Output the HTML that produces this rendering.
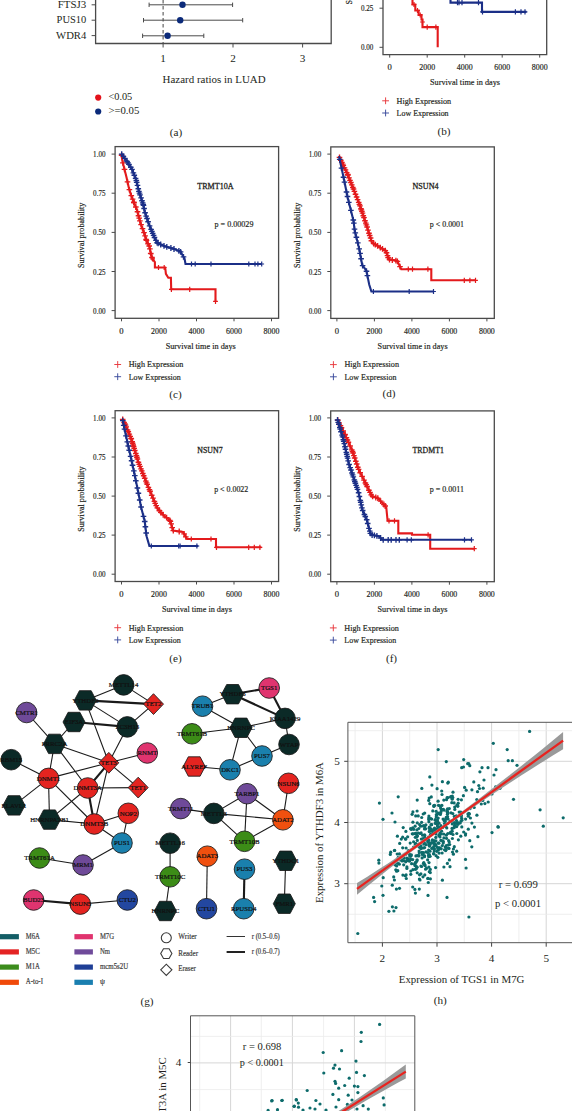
<!DOCTYPE html>
<html><head><meta charset="utf-8"><style>
html,body{margin:0;padding:0;background:#fff;}
body{width:572px;height:1111px;overflow:hidden;}
svg{display:block;font-family:"Liberation Serif",serif;}
</style></head><body>
<svg width="572" height="1111" viewBox="0 0 572 1111">
<rect width="572" height="1111" fill="#fff"/>
<polyline points="95.6,-5 95.6,43.5 331.2,43.5 331.2,-5" fill="none" stroke="#4a4a4a" stroke-width="1.3"/>
<line x1="91.6" y1="4.8" x2="95.6" y2="4.8" stroke="#4a4a4a" stroke-width="1"/>
<line x1="91.6" y1="20.2" x2="95.6" y2="20.2" stroke="#4a4a4a" stroke-width="1"/>
<line x1="91.6" y1="35.6" x2="95.6" y2="35.6" stroke="#4a4a4a" stroke-width="1"/>
<text x="86.3" y="7.9" font-size="11.2" text-anchor="end" textLength="28.5" lengthAdjust="spacingAndGlyphs" fill="#231f20">FTSJ3</text>
<text x="86.3" y="23.3" font-size="11.2" text-anchor="end" textLength="29.7" lengthAdjust="spacingAndGlyphs" fill="#231f20">PUS10</text>
<text x="86.3" y="38.7" font-size="11.2" text-anchor="end" textLength="30.2" lengthAdjust="spacingAndGlyphs" fill="#231f20">WDR4</text>
<line x1="163.1" y1="43.5" x2="163.1" y2="47.5" stroke="#4a4a4a" stroke-width="1"/>
<text x="163.1" y="61.9" font-size="11.2" text-anchor="middle" fill="#231f20">1</text>
<line x1="233" y1="43.5" x2="233" y2="47.5" stroke="#4a4a4a" stroke-width="1"/>
<text x="233" y="61.9" font-size="11.2" text-anchor="middle" fill="#231f20">2</text>
<line x1="302.6" y1="43.5" x2="302.6" y2="47.5" stroke="#4a4a4a" stroke-width="1"/>
<text x="302.6" y="61.9" font-size="11.2" text-anchor="middle" fill="#231f20">3</text>
<line x1="163.1" y1="0" x2="163.1" y2="43" stroke="#444" stroke-width="1" stroke-dasharray="3.5,2.5"/>
<line x1="149.1" y1="4.8" x2="232.6" y2="4.8" stroke="#4a4a4a" stroke-width="1"/>
<line x1="149.1" y1="2.6" x2="149.1" y2="7" stroke="#4a4a4a" stroke-width="1"/>
<line x1="232.6" y1="2.6" x2="232.6" y2="7" stroke="#4a4a4a" stroke-width="1"/>
<circle cx="182.5" cy="4.8" r="3.2" fill="#0b2a7a"/>
<line x1="143.5" y1="20.2" x2="242.7" y2="20.2" stroke="#4a4a4a" stroke-width="1"/>
<line x1="143.5" y1="18" x2="143.5" y2="22.4" stroke="#4a4a4a" stroke-width="1"/>
<line x1="242.7" y1="18" x2="242.7" y2="22.4" stroke="#4a4a4a" stroke-width="1"/>
<circle cx="180.2" cy="20.2" r="3.2" fill="#0b2a7a"/>
<line x1="142.6" y1="35.8" x2="203.8" y2="35.8" stroke="#4a4a4a" stroke-width="1"/>
<line x1="142.6" y1="33.6" x2="142.6" y2="38" stroke="#4a4a4a" stroke-width="1"/>
<line x1="203.8" y1="33.6" x2="203.8" y2="38" stroke="#4a4a4a" stroke-width="1"/>
<circle cx="167.6" cy="35.8" r="3.2" fill="#0b2a7a"/>
<text x="162.6" y="82.9" font-size="11.2" textLength="103" lengthAdjust="spacingAndGlyphs" fill="#231f20">Hazard ratios in LUAD</text>
<circle cx="98.2" cy="97.6" r="3.1" fill="#e3121b"/>
<circle cx="98.2" cy="111.5" r="3.1" fill="#0b2a7a"/>
<text x="108.4" y="99.8" font-size="11.2" textLength="23.9" lengthAdjust="spacingAndGlyphs" fill="#231f20">&lt;0.05</text>
<text x="108.4" y="113.8" font-size="11.2" textLength="30.9" lengthAdjust="spacingAndGlyphs" fill="#231f20">&gt;=0.05</text>
<text x="176" y="135.7" font-size="11.2" text-anchor="middle" fill="#231f20">(a)</text>
<polyline points="383,-5 383,54.6 546.7,54.6 546.7,-5" fill="none" stroke="#4a4a4a" stroke-width="1.3"/>
<line x1="379.5" y1="47.3" x2="383" y2="47.3" stroke="#4a4a4a" stroke-width="1"/>
<text x="373.4" y="50.3" font-size="8.7" text-anchor="end" textLength="12.4" lengthAdjust="spacingAndGlyphs" fill="#231f20" stroke="#231f20" stroke-width="0.18">0.00</text>
<line x1="379.5" y1="8.2" x2="383" y2="8.2" stroke="#4a4a4a" stroke-width="1"/>
<text x="373.4" y="11.2" font-size="8.7" text-anchor="end" textLength="12.4" lengthAdjust="spacingAndGlyphs" fill="#231f20" stroke="#231f20" stroke-width="0.18">0.25</text>
<line x1="389.7" y1="54.6" x2="389.7" y2="57.6" stroke="#4a4a4a" stroke-width="1"/>
<text x="389.7" y="69.6" font-size="8.7" text-anchor="middle" textLength="4.3" lengthAdjust="spacingAndGlyphs" fill="#231f20" stroke="#231f20" stroke-width="0.18">0</text>
<line x1="427.2" y1="54.6" x2="427.2" y2="57.6" stroke="#4a4a4a" stroke-width="1"/>
<text x="427.2" y="69.6" font-size="8.7" text-anchor="middle" textLength="15.8" lengthAdjust="spacingAndGlyphs" fill="#231f20" stroke="#231f20" stroke-width="0.18">2000</text>
<line x1="464.7" y1="54.6" x2="464.7" y2="57.6" stroke="#4a4a4a" stroke-width="1"/>
<text x="464.7" y="69.6" font-size="8.7" text-anchor="middle" textLength="15.8" lengthAdjust="spacingAndGlyphs" fill="#231f20" stroke="#231f20" stroke-width="0.18">4000</text>
<line x1="502.2" y1="54.6" x2="502.2" y2="57.6" stroke="#4a4a4a" stroke-width="1"/>
<text x="502.2" y="69.6" font-size="8.7" text-anchor="middle" textLength="15.8" lengthAdjust="spacingAndGlyphs" fill="#231f20" stroke="#231f20" stroke-width="0.18">6000</text>
<line x1="539.7" y1="54.6" x2="539.7" y2="57.6" stroke="#4a4a4a" stroke-width="1"/>
<text x="539.7" y="69.6" font-size="8.7" text-anchor="middle" textLength="15.8" lengthAdjust="spacingAndGlyphs" fill="#231f20" stroke="#231f20" stroke-width="0.18">8000</text>
<text x="465" y="85.1" font-size="8.7" text-anchor="middle" textLength="70" lengthAdjust="spacingAndGlyphs" fill="#231f20" stroke="#231f20" stroke-width="0.18">Survival time in days</text>
<text x="351.5" y="4.4" font-size="8.1" textLength="65.3" lengthAdjust="spacingAndGlyphs" transform="rotate(-90 351.5 4.4)" fill="#231f20" stroke="#231f20" stroke-width="0.18">Survival probability</text>
<line x1="382.2" y1="100.8" x2="389" y2="100.8" stroke="#e8383d" stroke-width="0.95"/>
<line x1="385.6" y1="97.4" x2="385.6" y2="104.2" stroke="#e8383d" stroke-width="0.95"/>
<text x="396.6" y="103.6" font-size="8.7" textLength="54.6" lengthAdjust="spacingAndGlyphs" fill="#231f20" stroke="#231f20" stroke-width="0.18">High Expression</text>
<line x1="382.2" y1="113" x2="389" y2="113" stroke="#3a4b9c" stroke-width="0.95"/>
<line x1="385.6" y1="109.6" x2="385.6" y2="116.4" stroke="#3a4b9c" stroke-width="0.95"/>
<text x="396.6" y="115.8" font-size="8.7" textLength="52" lengthAdjust="spacingAndGlyphs" fill="#231f20" stroke="#231f20" stroke-width="0.18">Low Expression</text>
<text x="444" y="134.8" font-size="11.2" text-anchor="middle" fill="#231f20">(b)</text>
<polyline points="412.5,-3 412.5,4.5 415.3,4.5 415.3,10.5 418.6,10.5 418.6,15 421.5,15 421.5,19.5 422.5,19.5 422.5,27.1 437.7,27.1 437.7,47.2" fill="none" stroke="#e31a1c" stroke-width="2.1" stroke-linejoin="miter"/>
<path d="M414 1.9V7.1M411.6 4.5H416.4" stroke="#e31a1c" stroke-width="1.2" fill="none"/>
<path d="M417.5 7.9V13.1M415.1 10.5H419.9" stroke="#e31a1c" stroke-width="1.2" fill="none"/>
<path d="M420.2 12.4V17.6M417.8 15H422.6" stroke="#e31a1c" stroke-width="1.2" fill="none"/>
<path d="M422.5 19.4V24.6M420.1 22H424.9" stroke="#e31a1c" stroke-width="1.2" fill="none"/>
<path d="M427.2 24.5V29.7M424.8 27.1H429.6" stroke="#e31a1c" stroke-width="1.2" fill="none"/>
<path d="M435.9 24.5V29.7M433.5 27.1H438.3" stroke="#e31a1c" stroke-width="1.2" fill="none"/>
<polyline points="450.5,-3 450.5,2.6 482,2.6 482,11.9 526.5,11.9" fill="none" stroke="#1b2f87" stroke-width="2.1" stroke-linejoin="miter"/>
<path d="M457.5 0V5.2M455.1 2.6H459.9" stroke="#1b2f87" stroke-width="1.2" fill="none"/>
<path d="M459 0V5.2M456.6 2.6H461.4" stroke="#1b2f87" stroke-width="1.2" fill="none"/>
<path d="M462 0V5.2M459.6 2.6H464.4" stroke="#1b2f87" stroke-width="1.2" fill="none"/>
<path d="M478.5 0V5.2M476.1 2.6H480.9" stroke="#1b2f87" stroke-width="1.2" fill="none"/>
<path d="M482.5 9.3V14.5M480.1 11.9H484.9" stroke="#1b2f87" stroke-width="1.2" fill="none"/>
<path d="M515.4 9.3V14.5M513 11.9H517.8" stroke="#1b2f87" stroke-width="1.2" fill="none"/>
<path d="M521 9.3V14.5M518.6 11.9H523.4" stroke="#1b2f87" stroke-width="1.2" fill="none"/>
<path d="M525 9.3V14.5M522.6 11.9H527.4" stroke="#1b2f87" stroke-width="1.2" fill="none"/>
<rect x="115.1" y="146.6" width="163.5" height="171.7" fill="none" stroke="#4a4a4a" stroke-width="1.3"/>
<line x1="111.6" y1="310.6" x2="115.1" y2="310.6" stroke="#4a4a4a" stroke-width="1"/>
<text x="105.5" y="313.6" font-size="8.7" text-anchor="end" textLength="12.4" lengthAdjust="spacingAndGlyphs" fill="#231f20" stroke="#231f20" stroke-width="0.18">0.00</text>
<line x1="111.6" y1="271.5" x2="115.1" y2="271.5" stroke="#4a4a4a" stroke-width="1"/>
<text x="105.5" y="274.5" font-size="8.7" text-anchor="end" textLength="12.4" lengthAdjust="spacingAndGlyphs" fill="#231f20" stroke="#231f20" stroke-width="0.18">0.25</text>
<line x1="111.6" y1="232.4" x2="115.1" y2="232.4" stroke="#4a4a4a" stroke-width="1"/>
<text x="105.5" y="235.4" font-size="8.7" text-anchor="end" textLength="12.4" lengthAdjust="spacingAndGlyphs" fill="#231f20" stroke="#231f20" stroke-width="0.18">0.50</text>
<line x1="111.6" y1="193.2" x2="115.1" y2="193.2" stroke="#4a4a4a" stroke-width="1"/>
<text x="105.5" y="196.2" font-size="8.7" text-anchor="end" textLength="12.4" lengthAdjust="spacingAndGlyphs" fill="#231f20" stroke="#231f20" stroke-width="0.18">0.75</text>
<line x1="111.6" y1="154.1" x2="115.1" y2="154.1" stroke="#4a4a4a" stroke-width="1"/>
<text x="105.5" y="157.1" font-size="8.7" text-anchor="end" textLength="12.4" lengthAdjust="spacingAndGlyphs" fill="#231f20" stroke="#231f20" stroke-width="0.18">1.00</text>
<line x1="121.5" y1="318.3" x2="121.5" y2="321.3" stroke="#4a4a4a" stroke-width="1"/>
<text x="121.5" y="333.6" font-size="8.7" text-anchor="middle" textLength="4.3" lengthAdjust="spacingAndGlyphs" fill="#231f20" stroke="#231f20" stroke-width="0.18">0</text>
<line x1="159" y1="318.3" x2="159" y2="321.3" stroke="#4a4a4a" stroke-width="1"/>
<text x="159" y="333.6" font-size="8.7" text-anchor="middle" textLength="15.8" lengthAdjust="spacingAndGlyphs" fill="#231f20" stroke="#231f20" stroke-width="0.18">2000</text>
<line x1="196.5" y1="318.3" x2="196.5" y2="321.3" stroke="#4a4a4a" stroke-width="1"/>
<text x="196.5" y="333.6" font-size="8.7" text-anchor="middle" textLength="15.8" lengthAdjust="spacingAndGlyphs" fill="#231f20" stroke="#231f20" stroke-width="0.18">4000</text>
<line x1="234" y1="318.3" x2="234" y2="321.3" stroke="#4a4a4a" stroke-width="1"/>
<text x="234" y="333.6" font-size="8.7" text-anchor="middle" textLength="15.8" lengthAdjust="spacingAndGlyphs" fill="#231f20" stroke="#231f20" stroke-width="0.18">6000</text>
<line x1="271.5" y1="318.3" x2="271.5" y2="321.3" stroke="#4a4a4a" stroke-width="1"/>
<text x="271.5" y="333.6" font-size="8.7" text-anchor="middle" textLength="15.8" lengthAdjust="spacingAndGlyphs" fill="#231f20" stroke="#231f20" stroke-width="0.18">8000</text>
<text x="200.7" y="348.8" font-size="8.7" text-anchor="middle" textLength="70" lengthAdjust="spacingAndGlyphs" fill="#231f20" stroke="#231f20" stroke-width="0.18">Survival time in days</text>
<text x="84.4" y="235.4" font-size="7.9" text-anchor="middle" textLength="65.3" lengthAdjust="spacingAndGlyphs" transform="rotate(-90 84.4 235.4)" fill="#231f20" stroke="#231f20" stroke-width="0.18">Survival probability</text>
<line x1="114.3" y1="364.5" x2="121.1" y2="364.5" stroke="#e8383d" stroke-width="0.95"/>
<line x1="117.7" y1="361.1" x2="117.7" y2="367.9" stroke="#e8383d" stroke-width="0.95"/>
<text x="128.7" y="367.3" font-size="8.7" textLength="54.6" lengthAdjust="spacingAndGlyphs" fill="#231f20" stroke="#231f20" stroke-width="0.18">High Expression</text>
<line x1="114.3" y1="376.7" x2="121.1" y2="376.7" stroke="#3a4b9c" stroke-width="0.95"/>
<line x1="117.7" y1="373.3" x2="117.7" y2="380.1" stroke="#3a4b9c" stroke-width="0.95"/>
<text x="128.7" y="379.5" font-size="8.7" textLength="52" lengthAdjust="spacingAndGlyphs" fill="#231f20" stroke="#231f20" stroke-width="0.18">Low Expression</text>
<text x="215.4" y="188.7" font-size="8.6" text-anchor="middle" textLength="36.2" lengthAdjust="spacingAndGlyphs" fill="#231f20" stroke="#231f20" stroke-width="0.3">TRMT10A</text>
<text x="234" y="227.2" font-size="8.7" text-anchor="middle" textLength="38.9" lengthAdjust="spacingAndGlyphs" fill="#231f20" stroke="#231f20" stroke-width="0.18">p = 0.00029</text>
<text x="175.4" y="397.5" font-size="11.2" text-anchor="middle" fill="#231f20">(c)</text>
<polyline points="121.4,153.8 122.3,160.5 124.4,168.9 126.5,177.3 128.6,186.7 130.7,194.1 133.9,202.5 137,210 140.5,223.1 144.7,234.6 146.3,240 149.4,246.3 151,255 152.6,258.9 154.9,262 154.9,267.5 165.2,267.5 165.9,273.8 168.3,277.7 170.9,277.7 171.2,289.3 215.5,289.3 215.5,301.3" fill="none" stroke="#e31a1c" stroke-width="2.1" stroke-linejoin="miter"/>
<path d="M121.6 152.3V158.1M118.8 155.2H124.4" stroke="#e31a1c" stroke-width="1.35" fill="none"/>
<path d="M122.9 159.9V165.7M120.1 162.8H125.7" stroke="#e31a1c" stroke-width="1.35" fill="none"/>
<path d="M124.5 166.4V172.2M121.7 169.3H127.3" stroke="#e31a1c" stroke-width="1.35" fill="none"/>
<path d="M127.5 178.9V184.7M124.7 181.8H130.3" stroke="#e31a1c" stroke-width="1.35" fill="none"/>
<path d="M129.4 186.7V192.5M126.6 189.6H132.2" stroke="#e31a1c" stroke-width="1.35" fill="none"/>
<path d="M131.3 192.7V198.5M128.5 195.6H134.1" stroke="#e31a1c" stroke-width="1.35" fill="none"/>
<path d="M132.6 196.2V202M129.8 199.1H135.4" stroke="#e31a1c" stroke-width="1.35" fill="none"/>
<path d="M133.8 199.3V205.1M131 202.2H136.6" stroke="#e31a1c" stroke-width="1.35" fill="none"/>
<path d="M134.1 200V205.8M131.3 202.9H136.9" stroke="#e31a1c" stroke-width="1.35" fill="none"/>
<path d="M135.8 204.1V209.9M133 207H138.6" stroke="#e31a1c" stroke-width="1.35" fill="none"/>
<path d="M137.5 208.8V214.6M134.7 211.7H140.3" stroke="#e31a1c" stroke-width="1.35" fill="none"/>
<path d="M138.5 212.8V218.6M135.7 215.7H141.3" stroke="#e31a1c" stroke-width="1.35" fill="none"/>
<path d="M139.2 215.2V221M136.4 218.1H142" stroke="#e31a1c" stroke-width="1.35" fill="none"/>
<path d="M139.9 217.9V223.7M137.1 220.8H142.7" stroke="#e31a1c" stroke-width="1.35" fill="none"/>
<path d="M141.1 221.7V227.5M138.3 224.6H143.9" stroke="#e31a1c" stroke-width="1.35" fill="none"/>
<path d="M142.5 225.7V231.5M139.7 228.6H145.3" stroke="#e31a1c" stroke-width="1.35" fill="none"/>
<path d="M144 229.7V235.5M141.2 232.6H146.8" stroke="#e31a1c" stroke-width="1.35" fill="none"/>
<path d="M145.1 233V238.8M142.3 235.9H147.9" stroke="#e31a1c" stroke-width="1.35" fill="none"/>
<path d="M146.1 236.6V242.4M143.3 239.5H148.9" stroke="#e31a1c" stroke-width="1.35" fill="none"/>
<path d="M146.5 237.5V243.3M143.7 240.4H149.3" stroke="#e31a1c" stroke-width="1.35" fill="none"/>
<path d="M148.1 240.8V246.6M145.3 243.7H150.9" stroke="#e31a1c" stroke-width="1.35" fill="none"/>
<path d="M149.2 243.1V248.9M146.4 246H152" stroke="#e31a1c" stroke-width="1.35" fill="none"/>
<path d="M149.9 246V251.8M147.1 248.9H152.7" stroke="#e31a1c" stroke-width="1.35" fill="none"/>
<path d="M150.7 250.5V256.3M147.9 253.4H153.5" stroke="#e31a1c" stroke-width="1.35" fill="none"/>
<path d="M152 254.6V260.4M149.2 257.5H154.8" stroke="#e31a1c" stroke-width="1.35" fill="none"/>
<path d="M151 251.4V256.6M148.6 254H153.4" stroke="#e31a1c" stroke-width="1.2" fill="none"/>
<path d="M152.6 256.3V261.5M150.2 258.9H155" stroke="#e31a1c" stroke-width="1.2" fill="none"/>
<path d="M158.5 264.9V270.1M156.1 267.5H160.9" stroke="#e31a1c" stroke-width="1.2" fill="none"/>
<path d="M164.2 264.9V270.1M161.8 267.5H166.6" stroke="#e31a1c" stroke-width="1.2" fill="none"/>
<path d="M171.4 286.7V291.9M169 289.3H173.8" stroke="#e31a1c" stroke-width="1.2" fill="none"/>
<path d="M189.7 286.7V291.9M187.3 289.3H192.1" stroke="#e31a1c" stroke-width="1.2" fill="none"/>
<path d="M215.5 298.7V303.9M213.1 301.3H217.9" stroke="#e31a1c" stroke-width="1.2" fill="none"/>
<polyline points="121.4,153.8 126.5,160.5 131.8,168.9 136,179.4 139.1,192 143.3,204.6 144.7,211.5 148.9,224.1 154.1,236.7 157.3,243 164.6,246.2 172,248.3 180.4,251.4 184.6,258.8 185.5,264 261.7,264" fill="none" stroke="#1b2f87" stroke-width="2.1" stroke-linejoin="miter"/>
<path d="M121.7 151.2V157M118.9 154.1H124.5" stroke="#1b2f87" stroke-width="1.35" fill="none"/>
<path d="M123.4 153.5V159.3M120.6 156.4H126.2" stroke="#1b2f87" stroke-width="1.35" fill="none"/>
<path d="M124.8 155.4V161.2M122 158.3H127.6" stroke="#1b2f87" stroke-width="1.35" fill="none"/>
<path d="M127.1 158.6V164.4M124.3 161.5H129.9" stroke="#1b2f87" stroke-width="1.35" fill="none"/>
<path d="M128 160V165.8M125.2 162.9H130.8" stroke="#1b2f87" stroke-width="1.35" fill="none"/>
<path d="M128.9 161.4V167.2M126.1 164.3H131.7" stroke="#1b2f87" stroke-width="1.35" fill="none"/>
<path d="M130.8 164.3V170.1M128 167.2H133.6" stroke="#1b2f87" stroke-width="1.35" fill="none"/>
<path d="M132 166.4V172.2M129.2 169.3H134.8" stroke="#1b2f87" stroke-width="1.35" fill="none"/>
<path d="M133.4 169.9V175.7M130.6 172.8H136.2" stroke="#1b2f87" stroke-width="1.35" fill="none"/>
<path d="M134.3 172.3V178.1M131.5 175.2H137.1" stroke="#1b2f87" stroke-width="1.35" fill="none"/>
<path d="M135.6 175.5V181.3M132.8 178.4H138.4" stroke="#1b2f87" stroke-width="1.35" fill="none"/>
<path d="M136.3 177.6V183.4M133.5 180.5H139.1" stroke="#1b2f87" stroke-width="1.35" fill="none"/>
<path d="M136.7 179.5V185.3M133.9 182.4H139.5" stroke="#1b2f87" stroke-width="1.35" fill="none"/>
<path d="M137.5 182.4V188.2M134.7 185.3H140.3" stroke="#1b2f87" stroke-width="1.35" fill="none"/>
<path d="M138.3 185.8V191.6M135.5 188.7H141.1" stroke="#1b2f87" stroke-width="1.35" fill="none"/>
<path d="M138.9 188.5V194.3M136.1 191.4H141.7" stroke="#1b2f87" stroke-width="1.35" fill="none"/>
<path d="M139.5 190.2V196M136.7 193.1H142.3" stroke="#1b2f87" stroke-width="1.35" fill="none"/>
<path d="M140 191.9V197.7M137.2 194.8H142.8" stroke="#1b2f87" stroke-width="1.35" fill="none"/>
<path d="M141.1 195V200.8M138.3 197.9H143.9" stroke="#1b2f87" stroke-width="1.35" fill="none"/>
<path d="M142 197.8V203.6M139.2 200.7H144.8" stroke="#1b2f87" stroke-width="1.35" fill="none"/>
<path d="M142.7 199.9V205.7M139.9 202.8H145.5" stroke="#1b2f87" stroke-width="1.35" fill="none"/>
<path d="M143.2 201.5V207.3M140.4 204.4H146" stroke="#1b2f87" stroke-width="1.35" fill="none"/>
<path d="M143.5 202.5V208.3M140.7 205.4H146.3" stroke="#1b2f87" stroke-width="1.35" fill="none"/>
<path d="M144.1 205.6V211.4M141.3 208.5H146.9" stroke="#1b2f87" stroke-width="1.35" fill="none"/>
<path d="M145.1 209.8V215.6M142.3 212.7H147.9" stroke="#1b2f87" stroke-width="1.35" fill="none"/>
<path d="M146.2 213.2V219M143.4 216.1H149" stroke="#1b2f87" stroke-width="1.35" fill="none"/>
<path d="M147 215.6V221.4M144.2 218.5H149.8" stroke="#1b2f87" stroke-width="1.35" fill="none"/>
<path d="M148.1 218.8V224.6M145.3 221.7H150.9" stroke="#1b2f87" stroke-width="1.35" fill="none"/>
<path d="M149.6 222.9V228.7M146.8 225.8H152.4" stroke="#1b2f87" stroke-width="1.35" fill="none"/>
<path d="M151.1 226.5V232.3M148.3 229.4H153.9" stroke="#1b2f87" stroke-width="1.35" fill="none"/>
<path d="M151.9 228.4V234.2M149.1 231.3H154.7" stroke="#1b2f87" stroke-width="1.35" fill="none"/>
<path d="M152.7 230.4V236.2M149.9 233.3H155.5" stroke="#1b2f87" stroke-width="1.35" fill="none"/>
<path d="M153.6 232.5V238.3M150.8 235.4H156.4" stroke="#1b2f87" stroke-width="1.35" fill="none"/>
<path d="M154.5 234.6V240.4M151.7 237.5H157.3" stroke="#1b2f87" stroke-width="1.35" fill="none"/>
<path d="M156 237.5V243.3M153.2 240.4H158.8" stroke="#1b2f87" stroke-width="1.35" fill="none"/>
<path d="M157.1 239.8V245.6M154.3 242.7H159.9" stroke="#1b2f87" stroke-width="1.35" fill="none"/>
<path d="M158.1 240.4V246.2M155.3 243.3H160.9" stroke="#1b2f87" stroke-width="1.35" fill="none"/>
<path d="M160.7 241.6V247.4M157.9 244.5H163.5" stroke="#1b2f87" stroke-width="1.35" fill="none"/>
<path d="M164 243V248.8M161.2 245.9H166.8" stroke="#1b2f87" stroke-width="1.35" fill="none"/>
<path d="M166.8 243.9V249.7M164 246.8H169.6" stroke="#1b2f87" stroke-width="1.35" fill="none"/>
<path d="M170.9 245.1V250.9M168.1 248H173.7" stroke="#1b2f87" stroke-width="1.35" fill="none"/>
<path d="M174 246.1V251.9M171.2 249H176.8" stroke="#1b2f87" stroke-width="1.35" fill="none"/>
<path d="M178.9 247.9V253.7M176.1 250.8H181.7" stroke="#1b2f87" stroke-width="1.35" fill="none"/>
<path d="M180.6 248.9V254.7M177.8 251.8H183.4" stroke="#1b2f87" stroke-width="1.35" fill="none"/>
<path d="M183.5 254V259.8M180.7 256.9H186.3" stroke="#1b2f87" stroke-width="1.35" fill="none"/>
<path d="M191.5 261.4V266.6M189.1 264H193.9" stroke="#1b2f87" stroke-width="1.2" fill="none"/>
<path d="M195.2 261.4V266.6M192.8 264H197.6" stroke="#1b2f87" stroke-width="1.2" fill="none"/>
<path d="M211 261.4V266.6M208.6 264H213.4" stroke="#1b2f87" stroke-width="1.2" fill="none"/>
<path d="M248.8 261.4V266.6M246.4 264H251.2" stroke="#1b2f87" stroke-width="1.2" fill="none"/>
<path d="M255 261.4V266.6M252.6 264H257.4" stroke="#1b2f87" stroke-width="1.2" fill="none"/>
<path d="M257.9 261.4V266.6M255.5 264H260.3" stroke="#1b2f87" stroke-width="1.2" fill="none"/>
<path d="M261.7 261.4V266.6M259.3 264H264.1" stroke="#1b2f87" stroke-width="1.2" fill="none"/>
<rect x="330.8" y="146.9" width="163.5" height="171.5" fill="none" stroke="#4a4a4a" stroke-width="1.3"/>
<line x1="327.3" y1="310.6" x2="330.8" y2="310.6" stroke="#4a4a4a" stroke-width="1"/>
<text x="321.2" y="313.6" font-size="8.7" text-anchor="end" textLength="12.4" lengthAdjust="spacingAndGlyphs" fill="#231f20" stroke="#231f20" stroke-width="0.18">0.00</text>
<line x1="327.3" y1="271.5" x2="330.8" y2="271.5" stroke="#4a4a4a" stroke-width="1"/>
<text x="321.2" y="274.5" font-size="8.7" text-anchor="end" textLength="12.4" lengthAdjust="spacingAndGlyphs" fill="#231f20" stroke="#231f20" stroke-width="0.18">0.25</text>
<line x1="327.3" y1="232.4" x2="330.8" y2="232.4" stroke="#4a4a4a" stroke-width="1"/>
<text x="321.2" y="235.4" font-size="8.7" text-anchor="end" textLength="12.4" lengthAdjust="spacingAndGlyphs" fill="#231f20" stroke="#231f20" stroke-width="0.18">0.50</text>
<line x1="327.3" y1="193.2" x2="330.8" y2="193.2" stroke="#4a4a4a" stroke-width="1"/>
<text x="321.2" y="196.2" font-size="8.7" text-anchor="end" textLength="12.4" lengthAdjust="spacingAndGlyphs" fill="#231f20" stroke="#231f20" stroke-width="0.18">0.75</text>
<line x1="327.3" y1="154.1" x2="330.8" y2="154.1" stroke="#4a4a4a" stroke-width="1"/>
<text x="321.2" y="157.1" font-size="8.7" text-anchor="end" textLength="12.4" lengthAdjust="spacingAndGlyphs" fill="#231f20" stroke="#231f20" stroke-width="0.18">1.00</text>
<line x1="336.9" y1="318.4" x2="336.9" y2="321.4" stroke="#4a4a4a" stroke-width="1"/>
<text x="336.9" y="333.7" font-size="8.7" text-anchor="middle" textLength="4.3" lengthAdjust="spacingAndGlyphs" fill="#231f20" stroke="#231f20" stroke-width="0.18">0</text>
<line x1="374.4" y1="318.4" x2="374.4" y2="321.4" stroke="#4a4a4a" stroke-width="1"/>
<text x="374.4" y="333.7" font-size="8.7" text-anchor="middle" textLength="15.8" lengthAdjust="spacingAndGlyphs" fill="#231f20" stroke="#231f20" stroke-width="0.18">2000</text>
<line x1="411.9" y1="318.4" x2="411.9" y2="321.4" stroke="#4a4a4a" stroke-width="1"/>
<text x="411.9" y="333.7" font-size="8.7" text-anchor="middle" textLength="15.8" lengthAdjust="spacingAndGlyphs" fill="#231f20" stroke="#231f20" stroke-width="0.18">4000</text>
<line x1="449.4" y1="318.4" x2="449.4" y2="321.4" stroke="#4a4a4a" stroke-width="1"/>
<text x="449.4" y="333.7" font-size="8.7" text-anchor="middle" textLength="15.8" lengthAdjust="spacingAndGlyphs" fill="#231f20" stroke="#231f20" stroke-width="0.18">6000</text>
<line x1="486.9" y1="318.4" x2="486.9" y2="321.4" stroke="#4a4a4a" stroke-width="1"/>
<text x="486.9" y="333.7" font-size="8.7" text-anchor="middle" textLength="15.8" lengthAdjust="spacingAndGlyphs" fill="#231f20" stroke="#231f20" stroke-width="0.18">8000</text>
<text x="412.6" y="348.9" font-size="8.7" text-anchor="middle" textLength="70" lengthAdjust="spacingAndGlyphs" fill="#231f20" stroke="#231f20" stroke-width="0.18">Survival time in days</text>
<text x="300.1" y="235.4" font-size="7.9" text-anchor="middle" textLength="65.3" lengthAdjust="spacingAndGlyphs" transform="rotate(-90 300.1 235.4)" fill="#231f20" stroke="#231f20" stroke-width="0.18">Survival probability</text>
<line x1="330" y1="364.6" x2="336.8" y2="364.6" stroke="#e8383d" stroke-width="0.95"/>
<line x1="333.4" y1="361.2" x2="333.4" y2="368" stroke="#e8383d" stroke-width="0.95"/>
<text x="344.4" y="367.4" font-size="8.7" textLength="54.6" lengthAdjust="spacingAndGlyphs" fill="#231f20" stroke="#231f20" stroke-width="0.18">High Expression</text>
<line x1="330" y1="376.8" x2="336.8" y2="376.8" stroke="#3a4b9c" stroke-width="0.95"/>
<line x1="333.4" y1="373.4" x2="333.4" y2="380.2" stroke="#3a4b9c" stroke-width="0.95"/>
<text x="344.4" y="379.6" font-size="8.7" textLength="52" lengthAdjust="spacingAndGlyphs" fill="#231f20" stroke="#231f20" stroke-width="0.18">Low Expression</text>
<text x="425.5" y="188.7" font-size="8.6" text-anchor="middle" textLength="26" lengthAdjust="spacingAndGlyphs" fill="#231f20" stroke="#231f20" stroke-width="0.3">NSUN4</text>
<text x="446.9" y="227.3" font-size="8.7" text-anchor="middle" textLength="34.2" lengthAdjust="spacingAndGlyphs" fill="#231f20" stroke="#231f20" stroke-width="0.18">p &lt; 0.0001</text>
<text x="389" y="397.3" font-size="11.2" text-anchor="middle" fill="#231f20">(d)</text>
<polyline points="339,156.3 347.7,174.6 355.4,193.8 361.2,209.2 366.9,226.5 372,242.6 386,251 388.7,259.4 397.1,260.8 401.3,269.2 431.3,269.2 431.3,280.3 475.5,280.3" fill="none" stroke="#e31a1c" stroke-width="2.1" stroke-linejoin="miter"/>
<path d="M339.5 154.5V160.3M336.7 157.4H342.3" stroke="#e31a1c" stroke-width="1.35" fill="none"/>
<path d="M340.8 157.3V163.1M338 160.2H343.6" stroke="#e31a1c" stroke-width="1.35" fill="none"/>
<path d="M341.9 159.4V165.2M339.1 162.3H344.7" stroke="#e31a1c" stroke-width="1.35" fill="none"/>
<path d="M342.7 161.2V167M339.9 164.1H345.5" stroke="#e31a1c" stroke-width="1.35" fill="none"/>
<path d="M343.3 162.5V168.3M340.5 165.4H346.1" stroke="#e31a1c" stroke-width="1.35" fill="none"/>
<path d="M344.5 164.9V170.7M341.7 167.8H347.3" stroke="#e31a1c" stroke-width="1.35" fill="none"/>
<path d="M345.5 167V172.8M342.7 169.9H348.3" stroke="#e31a1c" stroke-width="1.35" fill="none"/>
<path d="M346.7 169.7V175.5M343.9 172.6H349.5" stroke="#e31a1c" stroke-width="1.35" fill="none"/>
<path d="M347.7 171.6V177.4M344.9 174.5H350.5" stroke="#e31a1c" stroke-width="1.35" fill="none"/>
<path d="M347.9 172.1V177.9M345.1 175H350.7" stroke="#e31a1c" stroke-width="1.35" fill="none"/>
<path d="M349 174.9V180.7M346.2 177.8H351.8" stroke="#e31a1c" stroke-width="1.35" fill="none"/>
<path d="M350 177.5V183.3M347.2 180.4H352.8" stroke="#e31a1c" stroke-width="1.35" fill="none"/>
<path d="M350.9 179.6V185.4M348.1 182.5H353.7" stroke="#e31a1c" stroke-width="1.35" fill="none"/>
<path d="M351.8 181.9V187.7M349 184.8H354.6" stroke="#e31a1c" stroke-width="1.35" fill="none"/>
<path d="M352.8 184.4V190.2M350 187.3H355.6" stroke="#e31a1c" stroke-width="1.35" fill="none"/>
<path d="M353.5 186.1V191.9M350.7 189H356.3" stroke="#e31a1c" stroke-width="1.35" fill="none"/>
<path d="M354.4 188.4V194.2M351.6 191.3H357.2" stroke="#e31a1c" stroke-width="1.35" fill="none"/>
<path d="M355.5 191.3V197.1M352.7 194.2H358.3" stroke="#e31a1c" stroke-width="1.35" fill="none"/>
<path d="M356.6 194.1V199.9M353.8 197H359.4" stroke="#e31a1c" stroke-width="1.35" fill="none"/>
<path d="M357.6 196.7V202.5M354.8 199.6H360.4" stroke="#e31a1c" stroke-width="1.35" fill="none"/>
<path d="M358.7 199.5V205.3M355.9 202.4H361.5" stroke="#e31a1c" stroke-width="1.35" fill="none"/>
<path d="M359.4 201.5V207.3M356.6 204.4H362.2" stroke="#e31a1c" stroke-width="1.35" fill="none"/>
<path d="M360 203V208.8M357.2 205.9H362.8" stroke="#e31a1c" stroke-width="1.35" fill="none"/>
<path d="M361 205.8V211.6M358.2 208.7H363.8" stroke="#e31a1c" stroke-width="1.35" fill="none"/>
<path d="M361.4 207V212.8M358.6 209.9H364.2" stroke="#e31a1c" stroke-width="1.35" fill="none"/>
<path d="M361.9 208.5V214.3M359.1 211.4H364.7" stroke="#e31a1c" stroke-width="1.35" fill="none"/>
<path d="M362.5 210.2V216M359.7 213.1H365.3" stroke="#e31a1c" stroke-width="1.35" fill="none"/>
<path d="M363.3 212.8V218.6M360.5 215.7H366.1" stroke="#e31a1c" stroke-width="1.35" fill="none"/>
<path d="M364 214.7V220.5M361.2 217.6H366.8" stroke="#e31a1c" stroke-width="1.35" fill="none"/>
<path d="M365 217.8V223.6M362.2 220.7H367.8" stroke="#e31a1c" stroke-width="1.35" fill="none"/>
<path d="M365.8 220.2V226M363 223.1H368.6" stroke="#e31a1c" stroke-width="1.35" fill="none"/>
<path d="M366.4 221.9V227.7M363.6 224.8H369.2" stroke="#e31a1c" stroke-width="1.35" fill="none"/>
<path d="M367.1 224.1V229.9M364.3 227H369.9" stroke="#e31a1c" stroke-width="1.35" fill="none"/>
<path d="M368 227.2V233M365.2 230.1H370.8" stroke="#e31a1c" stroke-width="1.35" fill="none"/>
<path d="M369 230.3V236.1M366.2 233.2H371.8" stroke="#e31a1c" stroke-width="1.35" fill="none"/>
<path d="M369.7 232.6V238.4M366.9 235.5H372.5" stroke="#e31a1c" stroke-width="1.35" fill="none"/>
<path d="M370.6 235.1V240.9M367.8 238H373.4" stroke="#e31a1c" stroke-width="1.35" fill="none"/>
<path d="M371.4 237.8V243.6M368.6 240.7H374.2" stroke="#e31a1c" stroke-width="1.35" fill="none"/>
<path d="M373.7 240.7V246.5M370.9 243.6H376.5" stroke="#e31a1c" stroke-width="1.35" fill="none"/>
<path d="M375.3 241.7V247.5M372.5 244.6H378.1" stroke="#e31a1c" stroke-width="1.35" fill="none"/>
<path d="M377.6 243V248.8M374.8 245.9H380.4" stroke="#e31a1c" stroke-width="1.35" fill="none"/>
<path d="M380.3 244.7V250.5M377.5 247.6H383.1" stroke="#e31a1c" stroke-width="1.35" fill="none"/>
<path d="M382.5 246V251.8M379.7 248.9H385.3" stroke="#e31a1c" stroke-width="1.35" fill="none"/>
<path d="M385.3 247.7V253.5M382.5 250.6H388.1" stroke="#e31a1c" stroke-width="1.35" fill="none"/>
<path d="M386.5 249.8V255.6M383.7 252.7H389.3" stroke="#e31a1c" stroke-width="1.35" fill="none"/>
<path d="M387.5 252.7V258.5M384.7 255.6H390.3" stroke="#e31a1c" stroke-width="1.35" fill="none"/>
<path d="M388.1 254.7V260.5M385.3 257.6H390.9" stroke="#e31a1c" stroke-width="1.35" fill="none"/>
<path d="M389.5 256.6V262.4M386.7 259.5H392.3" stroke="#e31a1c" stroke-width="1.35" fill="none"/>
<path d="M392.3 257.1V262.9M389.5 260H395.1" stroke="#e31a1c" stroke-width="1.35" fill="none"/>
<path d="M395.9 257.7V263.5M393.1 260.6H398.7" stroke="#e31a1c" stroke-width="1.35" fill="none"/>
<path d="M397.4 258.5V264.3M394.6 261.4H400.2" stroke="#e31a1c" stroke-width="1.35" fill="none"/>
<path d="M400 263.7V269.5M397.2 266.6H402.8" stroke="#e31a1c" stroke-width="1.35" fill="none"/>
<path d="M408.3 266.6V271.8M405.9 269.2H410.7" stroke="#e31a1c" stroke-width="1.2" fill="none"/>
<path d="M412.5 266.6V271.8M410.1 269.2H414.9" stroke="#e31a1c" stroke-width="1.2" fill="none"/>
<path d="M427.9 266.6V271.8M425.5 269.2H430.3" stroke="#e31a1c" stroke-width="1.2" fill="none"/>
<path d="M464.3 277.7V282.9M461.9 280.3H466.7" stroke="#e31a1c" stroke-width="1.2" fill="none"/>
<path d="M469.9 277.7V282.9M467.5 280.3H472.3" stroke="#e31a1c" stroke-width="1.2" fill="none"/>
<path d="M475.5 277.7V282.9M473.1 280.3H477.9" stroke="#e31a1c" stroke-width="1.2" fill="none"/>
<polyline points="339,156.3 343.8,178.5 347.7,197.7 353.5,220.8 354.6,230 359.4,249.6 362.2,265 366.4,270.6 369.2,284.5 371.4,291.5 433.5,291.5" fill="none" stroke="#1b2f87" stroke-width="2.1" stroke-linejoin="miter"/>
<path d="M339.7 156.4V162.2M336.9 159.3H342.5" stroke="#1b2f87" stroke-width="1.35" fill="none"/>
<path d="M341.5 165.2V171M338.7 168.1H344.3" stroke="#1b2f87" stroke-width="1.35" fill="none"/>
<path d="M343.5 174.3V180.1M340.7 177.2H346.3" stroke="#1b2f87" stroke-width="1.35" fill="none"/>
<path d="M344.5 179.2V185M341.7 182.1H347.3" stroke="#1b2f87" stroke-width="1.35" fill="none"/>
<path d="M346.5 189.1V194.9M343.7 192H349.3" stroke="#1b2f87" stroke-width="1.35" fill="none"/>
<path d="M347.5 193.6V199.4M344.7 196.5H350.3" stroke="#1b2f87" stroke-width="1.35" fill="none"/>
<path d="M348.8 199.4V205.2M346 202.3H351.6" stroke="#1b2f87" stroke-width="1.35" fill="none"/>
<path d="M350.9 207.5V213.3M348.1 210.4H353.7" stroke="#1b2f87" stroke-width="1.35" fill="none"/>
<path d="M353.3 217.1V222.9M350.5 220H356.1" stroke="#1b2f87" stroke-width="1.35" fill="none"/>
<path d="M353.8 220.2V226M351 223.1H356.6" stroke="#1b2f87" stroke-width="1.35" fill="none"/>
<path d="M354.5 226.2V232M351.7 229.1H357.3" stroke="#1b2f87" stroke-width="1.35" fill="none"/>
<path d="M355.3 229.9V235.7M352.5 232.8H358.1" stroke="#1b2f87" stroke-width="1.35" fill="none"/>
<path d="M356.4 234.3V240.1M353.6 237.2H359.2" stroke="#1b2f87" stroke-width="1.35" fill="none"/>
<path d="M357.8 240V245.8M355 242.9H360.6" stroke="#1b2f87" stroke-width="1.35" fill="none"/>
<path d="M359.2 246V251.8M356.4 248.9H362" stroke="#1b2f87" stroke-width="1.35" fill="none"/>
<path d="M360.1 250.5V256.3M357.3 253.4H362.9" stroke="#1b2f87" stroke-width="1.35" fill="none"/>
<path d="M361.1 255.8V261.6M358.3 258.7H363.9" stroke="#1b2f87" stroke-width="1.35" fill="none"/>
<path d="M362.6 262.7V268.5M359.8 265.6H365.4" stroke="#1b2f87" stroke-width="1.35" fill="none"/>
<path d="M366.5 268.3V274.1M363.7 271.2H369.3" stroke="#1b2f87" stroke-width="1.35" fill="none"/>
<path d="M367.4 272.7V278.5M364.6 275.6H370.2" stroke="#1b2f87" stroke-width="1.35" fill="none"/>
<path d="M373.4 288.9V294.1M371 291.5H375.8" stroke="#1b2f87" stroke-width="1.2" fill="none"/>
<path d="M409.2 288.9V294.1M406.8 291.5H411.6" stroke="#1b2f87" stroke-width="1.2" fill="none"/>
<path d="M433.5 288.9V294.1M431.1 291.5H435.9" stroke="#1b2f87" stroke-width="1.2" fill="none"/>
<rect x="115.1" y="410.7" width="163.5" height="170.8" fill="none" stroke="#4a4a4a" stroke-width="1.3"/>
<line x1="111.6" y1="574.2" x2="115.1" y2="574.2" stroke="#4a4a4a" stroke-width="1"/>
<text x="105.5" y="577.2" font-size="8.7" text-anchor="end" textLength="12.4" lengthAdjust="spacingAndGlyphs" fill="#231f20" stroke="#231f20" stroke-width="0.18">0.00</text>
<line x1="111.6" y1="535.1" x2="115.1" y2="535.1" stroke="#4a4a4a" stroke-width="1"/>
<text x="105.5" y="538.1" font-size="8.7" text-anchor="end" textLength="12.4" lengthAdjust="spacingAndGlyphs" fill="#231f20" stroke="#231f20" stroke-width="0.18">0.25</text>
<line x1="111.6" y1="496.1" x2="115.1" y2="496.1" stroke="#4a4a4a" stroke-width="1"/>
<text x="105.5" y="499.1" font-size="8.7" text-anchor="end" textLength="12.4" lengthAdjust="spacingAndGlyphs" fill="#231f20" stroke="#231f20" stroke-width="0.18">0.50</text>
<line x1="111.6" y1="457" x2="115.1" y2="457" stroke="#4a4a4a" stroke-width="1"/>
<text x="105.5" y="460" font-size="8.7" text-anchor="end" textLength="12.4" lengthAdjust="spacingAndGlyphs" fill="#231f20" stroke="#231f20" stroke-width="0.18">0.75</text>
<line x1="111.6" y1="417.9" x2="115.1" y2="417.9" stroke="#4a4a4a" stroke-width="1"/>
<text x="105.5" y="420.9" font-size="8.7" text-anchor="end" textLength="12.4" lengthAdjust="spacingAndGlyphs" fill="#231f20" stroke="#231f20" stroke-width="0.18">1.00</text>
<line x1="121.5" y1="581.5" x2="121.5" y2="584.5" stroke="#4a4a4a" stroke-width="1"/>
<text x="121.5" y="596.8" font-size="8.7" text-anchor="middle" textLength="4.3" lengthAdjust="spacingAndGlyphs" fill="#231f20" stroke="#231f20" stroke-width="0.18">0</text>
<line x1="159" y1="581.5" x2="159" y2="584.5" stroke="#4a4a4a" stroke-width="1"/>
<text x="159" y="596.8" font-size="8.7" text-anchor="middle" textLength="15.8" lengthAdjust="spacingAndGlyphs" fill="#231f20" stroke="#231f20" stroke-width="0.18">2000</text>
<line x1="196.5" y1="581.5" x2="196.5" y2="584.5" stroke="#4a4a4a" stroke-width="1"/>
<text x="196.5" y="596.8" font-size="8.7" text-anchor="middle" textLength="15.8" lengthAdjust="spacingAndGlyphs" fill="#231f20" stroke="#231f20" stroke-width="0.18">4000</text>
<line x1="234" y1="581.5" x2="234" y2="584.5" stroke="#4a4a4a" stroke-width="1"/>
<text x="234" y="596.8" font-size="8.7" text-anchor="middle" textLength="15.8" lengthAdjust="spacingAndGlyphs" fill="#231f20" stroke="#231f20" stroke-width="0.18">6000</text>
<line x1="271.5" y1="581.5" x2="271.5" y2="584.5" stroke="#4a4a4a" stroke-width="1"/>
<text x="271.5" y="596.8" font-size="8.7" text-anchor="middle" textLength="15.8" lengthAdjust="spacingAndGlyphs" fill="#231f20" stroke="#231f20" stroke-width="0.18">8000</text>
<text x="196.9" y="612" font-size="8.7" text-anchor="middle" textLength="70" lengthAdjust="spacingAndGlyphs" fill="#231f20" stroke="#231f20" stroke-width="0.18">Survival time in days</text>
<text x="84.4" y="499.1" font-size="7.9" text-anchor="middle" textLength="65.3" lengthAdjust="spacingAndGlyphs" transform="rotate(-90 84.4 499.1)" fill="#231f20" stroke="#231f20" stroke-width="0.18">Survival probability</text>
<line x1="114.3" y1="627.7" x2="121.1" y2="627.7" stroke="#e8383d" stroke-width="0.95"/>
<line x1="117.7" y1="624.3" x2="117.7" y2="631.1" stroke="#e8383d" stroke-width="0.95"/>
<text x="128.7" y="630.5" font-size="8.7" textLength="54.6" lengthAdjust="spacingAndGlyphs" fill="#231f20" stroke="#231f20" stroke-width="0.18">High Expression</text>
<line x1="114.3" y1="639.9" x2="121.1" y2="639.9" stroke="#3a4b9c" stroke-width="0.95"/>
<line x1="117.7" y1="636.5" x2="117.7" y2="643.3" stroke="#3a4b9c" stroke-width="0.95"/>
<text x="128.7" y="642.7" font-size="8.7" textLength="52" lengthAdjust="spacingAndGlyphs" fill="#231f20" stroke="#231f20" stroke-width="0.18">Low Expression</text>
<text x="209.9" y="452.5" font-size="8.6" text-anchor="middle" textLength="25.4" lengthAdjust="spacingAndGlyphs" fill="#231f20" stroke="#231f20" stroke-width="0.3">NSUN7</text>
<text x="231.2" y="491.7" font-size="8.7" text-anchor="middle" textLength="34.1" lengthAdjust="spacingAndGlyphs" fill="#231f20" stroke="#231f20" stroke-width="0.18">p &lt; 0.0022</text>
<text x="175.4" y="661.5" font-size="11.2" text-anchor="middle" fill="#231f20">(e)</text>
<polyline points="122.5,419.2 125.4,425 131.2,438.5 138.8,463.5 146.5,482.7 151.3,494.2 157.1,507.7 162,513.8 170.3,520.8 173.1,530.6 183,532 187.1,539 216,539 216,547.3 261.3,547.3" fill="none" stroke="#e31a1c" stroke-width="2.1" stroke-linejoin="miter"/>
<path d="M122.7 416.6V422.4M119.9 419.5H125.5" stroke="#e31a1c" stroke-width="1.35" fill="none"/>
<path d="M124.1 419.6V425.4M121.3 422.5H126.9" stroke="#e31a1c" stroke-width="1.35" fill="none"/>
<path d="M124.9 421.1V426.9M122.1 424H127.7" stroke="#e31a1c" stroke-width="1.35" fill="none"/>
<path d="M125.5 422.2V428M122.7 425.1H128.3" stroke="#e31a1c" stroke-width="1.35" fill="none"/>
<path d="M126.2 424V429.8M123.4 426.9H129" stroke="#e31a1c" stroke-width="1.35" fill="none"/>
<path d="M127.5 427.1V432.9M124.7 430H130.3" stroke="#e31a1c" stroke-width="1.35" fill="none"/>
<path d="M128.3 428.8V434.6M125.5 431.7H131.1" stroke="#e31a1c" stroke-width="1.35" fill="none"/>
<path d="M129.3 431.2V437M126.5 434.1H132.1" stroke="#e31a1c" stroke-width="1.35" fill="none"/>
<path d="M130.2 433.4V439.2M127.4 436.3H133" stroke="#e31a1c" stroke-width="1.35" fill="none"/>
<path d="M131.1 435.5V441.3M128.3 438.4H133.9" stroke="#e31a1c" stroke-width="1.35" fill="none"/>
<path d="M131.3 435.9V441.7M128.5 438.8H134.1" stroke="#e31a1c" stroke-width="1.35" fill="none"/>
<path d="M132.2 438.8V444.6M129.4 441.7H135" stroke="#e31a1c" stroke-width="1.35" fill="none"/>
<path d="M132.6 440.3V446.1M129.8 443.2H135.4" stroke="#e31a1c" stroke-width="1.35" fill="none"/>
<path d="M133.2 442.1V447.9M130.4 445H136" stroke="#e31a1c" stroke-width="1.35" fill="none"/>
<path d="M133.6 443.6V449.4M130.8 446.5H136.4" stroke="#e31a1c" stroke-width="1.35" fill="none"/>
<path d="M134.2 445.4V451.2M131.4 448.3H137" stroke="#e31a1c" stroke-width="1.35" fill="none"/>
<path d="M134.8 447.6V453.4M132 450.5H137.6" stroke="#e31a1c" stroke-width="1.35" fill="none"/>
<path d="M135.8 450.6V456.4M133 453.5H138.6" stroke="#e31a1c" stroke-width="1.35" fill="none"/>
<path d="M136.4 452.7V458.5M133.6 455.6H139.2" stroke="#e31a1c" stroke-width="1.35" fill="none"/>
<path d="M136.9 454.3V460.1M134.1 457.2H139.7" stroke="#e31a1c" stroke-width="1.35" fill="none"/>
<path d="M137.4 456.1V461.9M134.6 459H140.2" stroke="#e31a1c" stroke-width="1.35" fill="none"/>
<path d="M138.4 459.3V465.1M135.6 462.2H141.2" stroke="#e31a1c" stroke-width="1.35" fill="none"/>
<path d="M139.2 461.5V467.3M136.4 464.4H142" stroke="#e31a1c" stroke-width="1.35" fill="none"/>
<path d="M140 463.5V469.3M137.2 466.4H142.8" stroke="#e31a1c" stroke-width="1.35" fill="none"/>
<path d="M141 466V471.8M138.2 468.9H143.8" stroke="#e31a1c" stroke-width="1.35" fill="none"/>
<path d="M141.8 468V473.8M139 470.9H144.6" stroke="#e31a1c" stroke-width="1.35" fill="none"/>
<path d="M142.8 470.6V476.4M140 473.5H145.6" stroke="#e31a1c" stroke-width="1.35" fill="none"/>
<path d="M143.7 472.8V478.6M140.9 475.7H146.5" stroke="#e31a1c" stroke-width="1.35" fill="none"/>
<path d="M144.7 475.3V481.1M141.9 478.2H147.5" stroke="#e31a1c" stroke-width="1.35" fill="none"/>
<path d="M145.9 478.2V484M143.1 481.1H148.7" stroke="#e31a1c" stroke-width="1.35" fill="none"/>
<path d="M146.6 480V485.8M143.8 482.9H149.4" stroke="#e31a1c" stroke-width="1.35" fill="none"/>
<path d="M147.2 481.5V487.3M144.4 484.4H150" stroke="#e31a1c" stroke-width="1.35" fill="none"/>
<path d="M148.4 484.5V490.3M145.6 487.4H151.2" stroke="#e31a1c" stroke-width="1.35" fill="none"/>
<path d="M149.4 486.7V492.5M146.6 489.6H152.2" stroke="#e31a1c" stroke-width="1.35" fill="none"/>
<path d="M150.1 488.3V494.1M147.3 491.2H152.9" stroke="#e31a1c" stroke-width="1.35" fill="none"/>
<path d="M151.7 492.3V498.1M148.9 495.2H154.5" stroke="#e31a1c" stroke-width="1.35" fill="none"/>
<path d="M153 495.2V501M150.2 498.1H155.8" stroke="#e31a1c" stroke-width="1.35" fill="none"/>
<path d="M154.4 498.4V504.2M151.6 501.3H157.2" stroke="#e31a1c" stroke-width="1.35" fill="none"/>
<path d="M155.2 500.5V506.3M152.4 503.4H158" stroke="#e31a1c" stroke-width="1.35" fill="none"/>
<path d="M156.2 502.7V508.5M153.4 505.6H159" stroke="#e31a1c" stroke-width="1.35" fill="none"/>
<path d="M157.3 505V510.8M154.5 507.9H160.1" stroke="#e31a1c" stroke-width="1.35" fill="none"/>
<path d="M159.5 507.8V513.6M156.7 510.7H162.3" stroke="#e31a1c" stroke-width="1.35" fill="none"/>
<path d="M160.8 509.4V515.2M158 512.3H163.6" stroke="#e31a1c" stroke-width="1.35" fill="none"/>
<path d="M163.2 511.9V517.7M160.4 514.8H166" stroke="#e31a1c" stroke-width="1.35" fill="none"/>
<path d="M166.6 514.8V520.6M163.8 517.7H169.4" stroke="#e31a1c" stroke-width="1.35" fill="none"/>
<path d="M169.8 517.5V523.3M167 520.4H172.6" stroke="#e31a1c" stroke-width="1.35" fill="none"/>
<path d="M170.4 518.4V524.2M167.6 521.3H173.2" stroke="#e31a1c" stroke-width="1.35" fill="none"/>
<path d="M171.2 521V526.8M168.4 523.9H174" stroke="#e31a1c" stroke-width="1.35" fill="none"/>
<path d="M172.2 524.7V530.5M169.4 527.6H175" stroke="#e31a1c" stroke-width="1.35" fill="none"/>
<path d="M173.3 527.7V533.5M170.5 530.6H176.1" stroke="#e31a1c" stroke-width="1.35" fill="none"/>
<path d="M179.2 528.6V534.4M176.4 531.5H182" stroke="#e31a1c" stroke-width="1.35" fill="none"/>
<path d="M184.1 530.9V536.7M181.3 533.8H186.9" stroke="#e31a1c" stroke-width="1.35" fill="none"/>
<path d="M185.8 533.9V539.7M183 536.8H188.6" stroke="#e31a1c" stroke-width="1.35" fill="none"/>
<path d="M191.3 536.4V541.6M188.9 539H193.7" stroke="#e31a1c" stroke-width="1.2" fill="none"/>
<path d="M211 536.4V541.6M208.6 539H213.4" stroke="#e31a1c" stroke-width="1.2" fill="none"/>
<path d="M216.5 544.7V549.9M214.1 547.3H218.9" stroke="#e31a1c" stroke-width="1.2" fill="none"/>
<path d="M248.7 544.7V549.9M246.3 547.3H251.1" stroke="#e31a1c" stroke-width="1.2" fill="none"/>
<path d="M254.3 544.7V549.9M251.9 547.3H256.7" stroke="#e31a1c" stroke-width="1.2" fill="none"/>
<path d="M259.9 544.7V549.9M257.5 547.3H262.3" stroke="#e31a1c" stroke-width="1.2" fill="none"/>
<polyline points="122.5,419.2 124.4,428.8 129.2,450 133,467.3 137.9,490.4 141,506.8 144.6,520.8 146.6,536.2 149.4,546 198.3,546" fill="none" stroke="#1b2f87" stroke-width="2.1" stroke-linejoin="miter"/>
<path d="M122.8 417.7V423.5M120 420.6H125.6" stroke="#1b2f87" stroke-width="1.35" fill="none"/>
<path d="M123.7 422.5V428.3M120.9 425.4H126.5" stroke="#1b2f87" stroke-width="1.35" fill="none"/>
<path d="M124.5 426.2V432M121.7 429.1H127.3" stroke="#1b2f87" stroke-width="1.35" fill="none"/>
<path d="M126 433V438.8M123.2 435.9H128.8" stroke="#1b2f87" stroke-width="1.35" fill="none"/>
<path d="M127.3 438.9V444.7M124.5 441.8H130.1" stroke="#1b2f87" stroke-width="1.35" fill="none"/>
<path d="M128.3 443.1V448.9M125.5 446H131.1" stroke="#1b2f87" stroke-width="1.35" fill="none"/>
<path d="M129.2 447.3V453.1M126.4 450.2H132" stroke="#1b2f87" stroke-width="1.35" fill="none"/>
<path d="M130.6 453.5V459.3M127.8 456.4H133.4" stroke="#1b2f87" stroke-width="1.35" fill="none"/>
<path d="M131.6 457.8V463.6M128.8 460.7H134.4" stroke="#1b2f87" stroke-width="1.35" fill="none"/>
<path d="M132.5 462.3V468.1M129.7 465.2H135.3" stroke="#1b2f87" stroke-width="1.35" fill="none"/>
<path d="M133.8 468V473.8M131 470.9H136.6" stroke="#1b2f87" stroke-width="1.35" fill="none"/>
<path d="M134.8 472.7V478.5M132 475.6H137.6" stroke="#1b2f87" stroke-width="1.35" fill="none"/>
<path d="M135.8 477.8V483.6M133 480.7H138.6" stroke="#1b2f87" stroke-width="1.35" fill="none"/>
<path d="M137.4 485.1V490.9M134.6 488H140.2" stroke="#1b2f87" stroke-width="1.35" fill="none"/>
<path d="M138.4 490.3V496.1M135.6 493.2H141.2" stroke="#1b2f87" stroke-width="1.35" fill="none"/>
<path d="M139.7 497.1V502.9M136.9 500H142.5" stroke="#1b2f87" stroke-width="1.35" fill="none"/>
<path d="M141.1 504.1V509.9M138.3 507H143.9" stroke="#1b2f87" stroke-width="1.35" fill="none"/>
<path d="M143.5 513.5V519.3M140.7 516.4H146.3" stroke="#1b2f87" stroke-width="1.35" fill="none"/>
<path d="M144.7 518.6V524.4M141.9 521.5H147.5" stroke="#1b2f87" stroke-width="1.35" fill="none"/>
<path d="M145.4 523.8V529.6M142.6 526.7H148.2" stroke="#1b2f87" stroke-width="1.35" fill="none"/>
<path d="M146.2 530.1V535.9M143.4 533H149" stroke="#1b2f87" stroke-width="1.35" fill="none"/>
<path d="M151.3 543.4V548.6M148.9 546H153.7" stroke="#1b2f87" stroke-width="1.2" fill="none"/>
<path d="M178.7 543.4V548.6M176.3 546H181.1" stroke="#1b2f87" stroke-width="1.2" fill="none"/>
<path d="M180.1 543.4V548.6M177.7 546H182.5" stroke="#1b2f87" stroke-width="1.2" fill="none"/>
<path d="M196.9 543.4V548.6M194.5 546H199.3" stroke="#1b2f87" stroke-width="1.2" fill="none"/>
<rect x="330.7" y="410.9" width="163.6" height="170.8" fill="none" stroke="#4a4a4a" stroke-width="1.3"/>
<line x1="327.2" y1="574.2" x2="330.7" y2="574.2" stroke="#4a4a4a" stroke-width="1"/>
<text x="321.1" y="577.2" font-size="8.7" text-anchor="end" textLength="12.4" lengthAdjust="spacingAndGlyphs" fill="#231f20" stroke="#231f20" stroke-width="0.18">0.00</text>
<line x1="327.2" y1="535.1" x2="330.7" y2="535.1" stroke="#4a4a4a" stroke-width="1"/>
<text x="321.1" y="538.1" font-size="8.7" text-anchor="end" textLength="12.4" lengthAdjust="spacingAndGlyphs" fill="#231f20" stroke="#231f20" stroke-width="0.18">0.25</text>
<line x1="327.2" y1="496.1" x2="330.7" y2="496.1" stroke="#4a4a4a" stroke-width="1"/>
<text x="321.1" y="499.1" font-size="8.7" text-anchor="end" textLength="12.4" lengthAdjust="spacingAndGlyphs" fill="#231f20" stroke="#231f20" stroke-width="0.18">0.50</text>
<line x1="327.2" y1="457" x2="330.7" y2="457" stroke="#4a4a4a" stroke-width="1"/>
<text x="321.1" y="460" font-size="8.7" text-anchor="end" textLength="12.4" lengthAdjust="spacingAndGlyphs" fill="#231f20" stroke="#231f20" stroke-width="0.18">0.75</text>
<line x1="327.2" y1="417.9" x2="330.7" y2="417.9" stroke="#4a4a4a" stroke-width="1"/>
<text x="321.1" y="420.9" font-size="8.7" text-anchor="end" textLength="12.4" lengthAdjust="spacingAndGlyphs" fill="#231f20" stroke="#231f20" stroke-width="0.18">1.00</text>
<line x1="336.9" y1="581.7" x2="336.9" y2="584.7" stroke="#4a4a4a" stroke-width="1"/>
<text x="336.9" y="597" font-size="8.7" text-anchor="middle" textLength="4.3" lengthAdjust="spacingAndGlyphs" fill="#231f20" stroke="#231f20" stroke-width="0.18">0</text>
<line x1="374.4" y1="581.7" x2="374.4" y2="584.7" stroke="#4a4a4a" stroke-width="1"/>
<text x="374.4" y="597" font-size="8.7" text-anchor="middle" textLength="15.8" lengthAdjust="spacingAndGlyphs" fill="#231f20" stroke="#231f20" stroke-width="0.18">2000</text>
<line x1="411.9" y1="581.7" x2="411.9" y2="584.7" stroke="#4a4a4a" stroke-width="1"/>
<text x="411.9" y="597" font-size="8.7" text-anchor="middle" textLength="15.8" lengthAdjust="spacingAndGlyphs" fill="#231f20" stroke="#231f20" stroke-width="0.18">4000</text>
<line x1="449.4" y1="581.7" x2="449.4" y2="584.7" stroke="#4a4a4a" stroke-width="1"/>
<text x="449.4" y="597" font-size="8.7" text-anchor="middle" textLength="15.8" lengthAdjust="spacingAndGlyphs" fill="#231f20" stroke="#231f20" stroke-width="0.18">6000</text>
<line x1="486.9" y1="581.7" x2="486.9" y2="584.7" stroke="#4a4a4a" stroke-width="1"/>
<text x="486.9" y="597" font-size="8.7" text-anchor="middle" textLength="15.8" lengthAdjust="spacingAndGlyphs" fill="#231f20" stroke="#231f20" stroke-width="0.18">8000</text>
<text x="412.5" y="612.2" font-size="8.7" text-anchor="middle" textLength="70" lengthAdjust="spacingAndGlyphs" fill="#231f20" stroke="#231f20" stroke-width="0.18">Survival time in days</text>
<text x="300" y="499.1" font-size="7.9" text-anchor="middle" textLength="65.3" lengthAdjust="spacingAndGlyphs" transform="rotate(-90 300 499.1)" fill="#231f20" stroke="#231f20" stroke-width="0.18">Survival probability</text>
<line x1="329.9" y1="627.9" x2="336.7" y2="627.9" stroke="#e8383d" stroke-width="0.95"/>
<line x1="333.3" y1="624.5" x2="333.3" y2="631.3" stroke="#e8383d" stroke-width="0.95"/>
<text x="344.3" y="630.7" font-size="8.7" textLength="54.6" lengthAdjust="spacingAndGlyphs" fill="#231f20" stroke="#231f20" stroke-width="0.18">High Expression</text>
<line x1="329.9" y1="640.1" x2="336.7" y2="640.1" stroke="#3a4b9c" stroke-width="0.95"/>
<line x1="333.3" y1="636.7" x2="333.3" y2="643.5" stroke="#3a4b9c" stroke-width="0.95"/>
<text x="344.3" y="642.9" font-size="8.7" textLength="52" lengthAdjust="spacingAndGlyphs" fill="#231f20" stroke="#231f20" stroke-width="0.18">Low Expression</text>
<text x="428.2" y="452.5" font-size="8.6" text-anchor="middle" textLength="31.3" lengthAdjust="spacingAndGlyphs" fill="#231f20" stroke="#231f20" stroke-width="0.3">TRDMT1</text>
<text x="446.9" y="491.7" font-size="8.7" text-anchor="middle" textLength="34.2" lengthAdjust="spacingAndGlyphs" fill="#231f20" stroke="#231f20" stroke-width="0.18">p = 0.0011</text>
<text x="391.5" y="662.3" font-size="11.2" text-anchor="middle" fill="#231f20">(f)</text>
<polyline points="337.3,419.2 345,434.6 352.7,451.9 358.5,469.2 366.2,484.6 371.9,496.2 377.7,498.1 384.8,505.4 386.3,507.7 387.6,520.8 398.3,520.8 398.3,533.4 412,533.4 412,534.8 430.2,534.8 430.2,548.7 474.3,548.7" fill="none" stroke="#e31a1c" stroke-width="2.1" stroke-linejoin="miter"/>
<path d="M337.8 417.3V423.1M335 420.2H340.6" stroke="#e31a1c" stroke-width="1.35" fill="none"/>
<path d="M339.1 419.9V425.7M336.3 422.8H341.9" stroke="#e31a1c" stroke-width="1.35" fill="none"/>
<path d="M340.5 422.7V428.5M337.7 425.6H343.3" stroke="#e31a1c" stroke-width="1.35" fill="none"/>
<path d="M341.5 424.8V430.6M338.7 427.7H344.3" stroke="#e31a1c" stroke-width="1.35" fill="none"/>
<path d="M343.2 428.1V433.9M340.4 431H346" stroke="#e31a1c" stroke-width="1.35" fill="none"/>
<path d="M344.9 431.5V437.3M342.1 434.4H347.7" stroke="#e31a1c" stroke-width="1.35" fill="none"/>
<path d="M345.1 432V437.8M342.3 434.9H347.9" stroke="#e31a1c" stroke-width="1.35" fill="none"/>
<path d="M346.4 434.8V440.6M343.6 437.7H349.2" stroke="#e31a1c" stroke-width="1.35" fill="none"/>
<path d="M347.4 437.1V442.9M344.6 440H350.2" stroke="#e31a1c" stroke-width="1.35" fill="none"/>
<path d="M348.4 439.3V445.1M345.6 442.2H351.2" stroke="#e31a1c" stroke-width="1.35" fill="none"/>
<path d="M350.1 443.1V448.9M347.3 446H352.9" stroke="#e31a1c" stroke-width="1.35" fill="none"/>
<path d="M351.8 446.9V452.7M349 449.8H354.6" stroke="#e31a1c" stroke-width="1.35" fill="none"/>
<path d="M352.5 448.6V454.4M349.7 451.5H355.3" stroke="#e31a1c" stroke-width="1.35" fill="none"/>
<path d="M353.1 450.1V455.9M350.3 453H355.9" stroke="#e31a1c" stroke-width="1.35" fill="none"/>
<path d="M353.9 452.7V458.5M351.1 455.6H356.7" stroke="#e31a1c" stroke-width="1.35" fill="none"/>
<path d="M354.7 455.1V460.9M351.9 458H357.5" stroke="#e31a1c" stroke-width="1.35" fill="none"/>
<path d="M355.8 458.3V464.1M353 461.2H358.6" stroke="#e31a1c" stroke-width="1.35" fill="none"/>
<path d="M356.7 461.1V466.9M353.9 464H359.5" stroke="#e31a1c" stroke-width="1.35" fill="none"/>
<path d="M357.8 464.3V470.1M355 467.2H360.6" stroke="#e31a1c" stroke-width="1.35" fill="none"/>
<path d="M358.6 466.5V472.3M355.8 469.4H361.4" stroke="#e31a1c" stroke-width="1.35" fill="none"/>
<path d="M360.2 469.8V475.6M357.4 472.7H363" stroke="#e31a1c" stroke-width="1.35" fill="none"/>
<path d="M362.1 473.5V479.3M359.3 476.4H364.9" stroke="#e31a1c" stroke-width="1.35" fill="none"/>
<path d="M364 477.2V483M361.2 480.1H366.8" stroke="#e31a1c" stroke-width="1.35" fill="none"/>
<path d="M365.4 480.1V485.9M362.6 483H368.2" stroke="#e31a1c" stroke-width="1.35" fill="none"/>
<path d="M366.2 481.7V487.5M363.4 484.6H369" stroke="#e31a1c" stroke-width="1.35" fill="none"/>
<path d="M367.1 483.6V489.4M364.3 486.5H369.9" stroke="#e31a1c" stroke-width="1.35" fill="none"/>
<path d="M368.9 487.3V493.1M366.1 490.2H371.7" stroke="#e31a1c" stroke-width="1.35" fill="none"/>
<path d="M370 489.5V495.3M367.2 492.4H372.8" stroke="#e31a1c" stroke-width="1.35" fill="none"/>
<path d="M371.2 491.9V497.7M368.4 494.8H374" stroke="#e31a1c" stroke-width="1.35" fill="none"/>
<path d="M372.6 493.5V499.3M369.8 496.4H375.4" stroke="#e31a1c" stroke-width="1.35" fill="none"/>
<path d="M375.8 494.6V500.4M373 497.5H378.6" stroke="#e31a1c" stroke-width="1.35" fill="none"/>
<path d="M377.8 495.3V501.1M375 498.2H380.6" stroke="#e31a1c" stroke-width="1.35" fill="none"/>
<path d="M380.6 498.2V504M377.8 501.1H383.4" stroke="#e31a1c" stroke-width="1.35" fill="none"/>
<path d="M383.9 501.6V507.4M381.1 504.5H386.7" stroke="#e31a1c" stroke-width="1.35" fill="none"/>
<path d="M385.2 503.1V508.9M382.4 506H388" stroke="#e31a1c" stroke-width="1.35" fill="none"/>
<path d="M389 518.2V523.4M386.6 520.8H391.4" stroke="#e31a1c" stroke-width="1.2" fill="none"/>
<path d="M394.5 518.2V523.4M392.1 520.8H396.9" stroke="#e31a1c" stroke-width="1.2" fill="none"/>
<path d="M428.1 532.2V537.4M425.7 534.8H430.5" stroke="#e31a1c" stroke-width="1.2" fill="none"/>
<path d="M474.3 546.1V551.3M471.9 548.7H476.7" stroke="#e31a1c" stroke-width="1.2" fill="none"/>
<polyline points="337.3,419.2 343.1,438.5 348.8,463.5 354.6,480.8 358.5,492.3 362.3,509.6 366.6,519.4 370.8,534.8 379.2,536.2 382,539.8 400,539.8 471.5,539.8" fill="none" stroke="#1b2f87" stroke-width="2.1" stroke-linejoin="miter"/>
<path d="M337.5 417.1V422.9M334.7 420H340.3" stroke="#1b2f87" stroke-width="1.35" fill="none"/>
<path d="M338.2 419.4V425.2M335.4 422.3H341" stroke="#1b2f87" stroke-width="1.35" fill="none"/>
<path d="M338.8 421.3V427.1M336 424.2H341.6" stroke="#1b2f87" stroke-width="1.35" fill="none"/>
<path d="M339.8 424.6V430.4M337 427.5H342.6" stroke="#1b2f87" stroke-width="1.35" fill="none"/>
<path d="M340.3 426.2V432M337.5 429.1H343.1" stroke="#1b2f87" stroke-width="1.35" fill="none"/>
<path d="M341 428.8V434.6M338.2 431.7H343.8" stroke="#1b2f87" stroke-width="1.35" fill="none"/>
<path d="M342.1 432.2V438M339.3 435.1H344.9" stroke="#1b2f87" stroke-width="1.35" fill="none"/>
<path d="M342.6 433.9V439.7M339.8 436.8H345.4" stroke="#1b2f87" stroke-width="1.35" fill="none"/>
<path d="M343.3 436.7V442.5M340.5 439.6H346.1" stroke="#1b2f87" stroke-width="1.35" fill="none"/>
<path d="M343.7 438.3V444.1M340.9 441.2H346.5" stroke="#1b2f87" stroke-width="1.35" fill="none"/>
<path d="M344.3 440.7V446.5M341.5 443.6H347.1" stroke="#1b2f87" stroke-width="1.35" fill="none"/>
<path d="M345 443.8V449.6M342.2 446.7H347.8" stroke="#1b2f87" stroke-width="1.35" fill="none"/>
<path d="M345.5 446.3V452.1M342.7 449.2H348.3" stroke="#1b2f87" stroke-width="1.35" fill="none"/>
<path d="M346.3 449.4V455.2M343.5 452.3H349.1" stroke="#1b2f87" stroke-width="1.35" fill="none"/>
<path d="M346.7 451.3V457.1M343.9 454.2H349.5" stroke="#1b2f87" stroke-width="1.35" fill="none"/>
<path d="M347.2 453.4V459.2M344.4 456.3H350" stroke="#1b2f87" stroke-width="1.35" fill="none"/>
<path d="M347.6 455.2V461M344.8 458.1H350.4" stroke="#1b2f87" stroke-width="1.35" fill="none"/>
<path d="M348.2 457.9V463.7M345.4 460.8H351" stroke="#1b2f87" stroke-width="1.35" fill="none"/>
<path d="M349.1 461.6V467.4M346.3 464.5H351.9" stroke="#1b2f87" stroke-width="1.35" fill="none"/>
<path d="M350.2 464.7V470.5M347.4 467.6H353" stroke="#1b2f87" stroke-width="1.35" fill="none"/>
<path d="M351 467.1V472.9M348.2 470H353.8" stroke="#1b2f87" stroke-width="1.35" fill="none"/>
<path d="M352 470.1V475.9M349.2 473H354.8" stroke="#1b2f87" stroke-width="1.35" fill="none"/>
<path d="M352.6 471.9V477.7M349.8 474.8H355.4" stroke="#1b2f87" stroke-width="1.35" fill="none"/>
<path d="M353.3 474V479.8M350.5 476.9H356.1" stroke="#1b2f87" stroke-width="1.35" fill="none"/>
<path d="M354.3 476.9V482.7M351.5 479.8H357.1" stroke="#1b2f87" stroke-width="1.35" fill="none"/>
<path d="M354.8 478.6V484.4M352 481.5H357.6" stroke="#1b2f87" stroke-width="1.35" fill="none"/>
<path d="M355.4 480.3V486.1M352.6 483.2H358.2" stroke="#1b2f87" stroke-width="1.35" fill="none"/>
<path d="M356.1 482.4V488.2M353.3 485.3H358.9" stroke="#1b2f87" stroke-width="1.35" fill="none"/>
<path d="M356.8 484.4V490.2M354 487.3H359.6" stroke="#1b2f87" stroke-width="1.35" fill="none"/>
<path d="M357.5 486.5V492.3M354.7 489.4H360.3" stroke="#1b2f87" stroke-width="1.35" fill="none"/>
<path d="M358.6 489.8V495.6M355.8 492.7H361.4" stroke="#1b2f87" stroke-width="1.35" fill="none"/>
<path d="M359.4 493.6V499.4M356.6 496.5H362.2" stroke="#1b2f87" stroke-width="1.35" fill="none"/>
<path d="M360.3 497.4V503.2M357.5 500.3H363.1" stroke="#1b2f87" stroke-width="1.35" fill="none"/>
<path d="M360.7 499.3V505.1M357.9 502.2H363.5" stroke="#1b2f87" stroke-width="1.35" fill="none"/>
<path d="M361.3 502V507.8M358.5 504.9H364.1" stroke="#1b2f87" stroke-width="1.35" fill="none"/>
<path d="M361.9 504.9V510.7M359.1 507.8H364.7" stroke="#1b2f87" stroke-width="1.35" fill="none"/>
<path d="M362.7 507.6V513.4M359.9 510.5H365.5" stroke="#1b2f87" stroke-width="1.35" fill="none"/>
<path d="M364.4 511.6V517.4M361.6 514.5H367.2" stroke="#1b2f87" stroke-width="1.35" fill="none"/>
<path d="M365.3 513.6V519.4M362.5 516.5H368.1" stroke="#1b2f87" stroke-width="1.35" fill="none"/>
<path d="M366.7 516.8V522.6M363.9 519.7H369.5" stroke="#1b2f87" stroke-width="1.35" fill="none"/>
<path d="M367.7 520.6V526.4M364.9 523.5H370.5" stroke="#1b2f87" stroke-width="1.35" fill="none"/>
<path d="M369 525.4V531.2M366.2 528.3H371.8" stroke="#1b2f87" stroke-width="1.35" fill="none"/>
<path d="M369.8 528.2V534M367 531.1H372.6" stroke="#1b2f87" stroke-width="1.35" fill="none"/>
<path d="M370.4 530.4V536.2M367.6 533.3H373.2" stroke="#1b2f87" stroke-width="1.35" fill="none"/>
<path d="M372.1 532.1V537.9M369.3 535H374.9" stroke="#1b2f87" stroke-width="1.35" fill="none"/>
<path d="M374.4 532.5V538.3M371.6 535.4H377.2" stroke="#1b2f87" stroke-width="1.35" fill="none"/>
<path d="M376.9 532.9V538.7M374.1 535.8H379.7" stroke="#1b2f87" stroke-width="1.35" fill="none"/>
<path d="M380.6 535.1V540.9M377.8 538H383.4" stroke="#1b2f87" stroke-width="1.35" fill="none"/>
<path d="M383.2 536.9V542.7M380.4 539.8H386" stroke="#1b2f87" stroke-width="1.35" fill="none"/>
<path d="M388.2 536.9V542.7M385.4 539.8H391" stroke="#1b2f87" stroke-width="1.35" fill="none"/>
<path d="M391.2 536.9V542.7M388.4 539.8H394" stroke="#1b2f87" stroke-width="1.35" fill="none"/>
<path d="M396 536.9V542.7M393.2 539.8H398.8" stroke="#1b2f87" stroke-width="1.35" fill="none"/>
<path d="M399.3 536.9V542.7M396.5 539.8H402.1" stroke="#1b2f87" stroke-width="1.35" fill="none"/>
<path d="M407.1 537.2V542.4M404.7 539.8H409.5" stroke="#1b2f87" stroke-width="1.2" fill="none"/>
<path d="M411.3 537.2V542.4M408.9 539.8H413.7" stroke="#1b2f87" stroke-width="1.2" fill="none"/>
<path d="M464.5 537.2V542.4M462.1 539.8H466.9" stroke="#1b2f87" stroke-width="1.2" fill="none"/>
<path d="M471.5 537.2V542.4M469.1 539.8H473.9" stroke="#1b2f87" stroke-width="1.2" fill="none"/>
<line x1="85.3" y1="700.4" x2="123.6" y2="684.9" stroke="#1a1a1a" stroke-width="1.1"/>
<line x1="85.3" y1="700.4" x2="153.5" y2="704.1" stroke="#1a1a1a" stroke-width="2.1"/>
<line x1="85.3" y1="700.4" x2="127.3" y2="726.9" stroke="#1a1a1a" stroke-width="1.1"/>
<line x1="85.3" y1="700.4" x2="108.8" y2="762.8" stroke="#1a1a1a" stroke-width="1.1"/>
<line x1="123.6" y1="684.9" x2="153.5" y2="704.1" stroke="#1a1a1a" stroke-width="1.1"/>
<line x1="153.5" y1="704.1" x2="127.3" y2="726.9" stroke="#1a1a1a" stroke-width="1.1"/>
<line x1="26.6" y1="712.5" x2="54.5" y2="743.9" stroke="#1a1a1a" stroke-width="1.1"/>
<line x1="74" y1="722" x2="127.3" y2="726.9" stroke="#1a1a1a" stroke-width="2.1"/>
<line x1="74" y1="722" x2="54.5" y2="743.9" stroke="#1a1a1a" stroke-width="1.1"/>
<line x1="54.5" y1="743.9" x2="108.8" y2="762.8" stroke="#1a1a1a" stroke-width="1.1"/>
<line x1="54.5" y1="743.9" x2="48.5" y2="778.4" stroke="#1a1a1a" stroke-width="1.1"/>
<line x1="54.5" y1="743.9" x2="87.7" y2="788" stroke="#1a1a1a" stroke-width="1.1"/>
<line x1="127.3" y1="726.9" x2="108.8" y2="762.8" stroke="#1a1a1a" stroke-width="1.1"/>
<line x1="147.3" y1="753" x2="108.8" y2="762.8" stroke="#1a1a1a" stroke-width="1.1"/>
<line x1="11.2" y1="759.7" x2="48.5" y2="778.4" stroke="#1a1a1a" stroke-width="1.1"/>
<line x1="108.8" y1="762.8" x2="48.5" y2="778.4" stroke="#1a1a1a" stroke-width="1.1"/>
<line x1="108.8" y1="762.8" x2="87.7" y2="788" stroke="#1a1a1a" stroke-width="2.1"/>
<line x1="108.8" y1="762.8" x2="138.2" y2="787.6" stroke="#1a1a1a" stroke-width="1.1"/>
<line x1="108.8" y1="762.8" x2="94.3" y2="824" stroke="#1a1a1a" stroke-width="1.1"/>
<line x1="48.5" y1="778.4" x2="14" y2="805.4" stroke="#1a1a1a" stroke-width="1.1"/>
<line x1="48.5" y1="778.4" x2="49.5" y2="819.6" stroke="#1a1a1a" stroke-width="1.1"/>
<line x1="48.5" y1="778.4" x2="94.3" y2="824" stroke="#1a1a1a" stroke-width="1.1"/>
<line x1="87.7" y1="788" x2="49.5" y2="819.6" stroke="#1a1a1a" stroke-width="1.1"/>
<line x1="87.7" y1="788" x2="138.2" y2="787.6" stroke="#1a1a1a" stroke-width="1.1"/>
<line x1="87.7" y1="788" x2="94.3" y2="824" stroke="#1a1a1a" stroke-width="2.1"/>
<line x1="49.5" y1="819.6" x2="94.3" y2="824" stroke="#1a1a1a" stroke-width="1.1"/>
<line x1="94.3" y1="824" x2="128.3" y2="813.3" stroke="#1a1a1a" stroke-width="1.1"/>
<line x1="94.3" y1="824" x2="122" y2="843" stroke="#1a1a1a" stroke-width="1.1"/>
<line x1="128.3" y1="813.3" x2="122" y2="843" stroke="#1a1a1a" stroke-width="1.1"/>
<line x1="122" y1="843" x2="83" y2="865" stroke="#1a1a1a" stroke-width="1.1"/>
<line x1="39.5" y1="858" x2="83" y2="865" stroke="#1a1a1a" stroke-width="1.1"/>
<line x1="33.6" y1="900" x2="80.3" y2="904.1" stroke="#1a1a1a" stroke-width="2.1"/>
<line x1="80.3" y1="904.1" x2="127.3" y2="900" stroke="#1a1a1a" stroke-width="1.1"/>
<line x1="232.6" y1="694.2" x2="269.2" y2="688" stroke="#1a1a1a" stroke-width="2.1"/>
<line x1="232.6" y1="694.2" x2="285" y2="718.4" stroke="#1a1a1a" stroke-width="2.1"/>
<line x1="269.2" y1="688" x2="285" y2="718.4" stroke="#1a1a1a" stroke-width="2.1"/>
<line x1="202.5" y1="706.2" x2="232.6" y2="694.2" stroke="#1a1a1a" stroke-width="1.1"/>
<line x1="202.5" y1="706.2" x2="241" y2="727.8" stroke="#1a1a1a" stroke-width="1.1"/>
<line x1="192" y1="733.8" x2="241" y2="727.8" stroke="#1a1a1a" stroke-width="1.1"/>
<line x1="241" y1="727.8" x2="285" y2="718.4" stroke="#1a1a1a" stroke-width="1.1"/>
<line x1="241" y1="727.8" x2="262" y2="756" stroke="#1a1a1a" stroke-width="1.1"/>
<line x1="241" y1="727.8" x2="230" y2="769.8" stroke="#1a1a1a" stroke-width="1.1"/>
<line x1="194.2" y1="766.5" x2="230" y2="769.8" stroke="#1a1a1a" stroke-width="1.1"/>
<line x1="230" y1="769.8" x2="262" y2="756" stroke="#1a1a1a" stroke-width="1.1"/>
<line x1="262" y1="756" x2="289" y2="744.5" stroke="#1a1a1a" stroke-width="1.1"/>
<line x1="285" y1="718.4" x2="289" y2="744.5" stroke="#1a1a1a" stroke-width="1.1"/>
<line x1="288.5" y1="783.3" x2="282.9" y2="819.8" stroke="#1a1a1a" stroke-width="1.1"/>
<line x1="247" y1="793.7" x2="213.8" y2="813.4" stroke="#1a1a1a" stroke-width="1.1"/>
<line x1="247" y1="793.7" x2="282.9" y2="819.8" stroke="#1a1a1a" stroke-width="1.1"/>
<line x1="247" y1="793.7" x2="244.5" y2="841.3" stroke="#1a1a1a" stroke-width="1.1"/>
<line x1="180.8" y1="808.6" x2="213.8" y2="813.4" stroke="#1a1a1a" stroke-width="1.1"/>
<line x1="213.8" y1="813.4" x2="282.9" y2="819.8" stroke="#1a1a1a" stroke-width="1.1"/>
<line x1="213.8" y1="813.4" x2="244.5" y2="841.3" stroke="#1a1a1a" stroke-width="1.1"/>
<line x1="244.5" y1="841.3" x2="282.9" y2="819.8" stroke="#1a1a1a" stroke-width="1.1"/>
<line x1="170.1" y1="843.2" x2="170.1" y2="876.8" stroke="#1a1a1a" stroke-width="1.1"/>
<line x1="170.1" y1="876.8" x2="165.4" y2="911" stroke="#1a1a1a" stroke-width="1.1"/>
<line x1="207.3" y1="856.2" x2="206.5" y2="908.7" stroke="#1a1a1a" stroke-width="1.1"/>
<line x1="244.5" y1="869.2" x2="243.7" y2="908.7" stroke="#1a1a1a" stroke-width="2.1"/>
<line x1="285.7" y1="860.8" x2="284.3" y2="903.7" stroke="#1a1a1a" stroke-width="1.1"/>
<circle cx="123.6" cy="684.9" r="10.3" fill="#0b2a27" stroke="#1a1a1a" stroke-width="0.85"/>
<polygon points="74.3,700.4 79.4,690.7 91.2,690.7 96.3,700.4 91.2,710.1 79.4,710.1" fill="#0b2a27" stroke="#1a1a1a" stroke-width="0.85"/>
<polygon points="143.5,704.1 153.5,693.7 163.5,704.1 153.5,714.5" fill="#e42420" stroke="#1a1a1a" stroke-width="0.85"/>
<circle cx="26.6" cy="712.5" r="10.3" fill="#6f4a99" stroke="#1a1a1a" stroke-width="0.85"/>
<polygon points="63,722 68.1,712.3 79.9,712.3 85,722 79.9,731.7 68.1,731.7" fill="#0b2a27" stroke="#1a1a1a" stroke-width="0.85"/>
<circle cx="127.3" cy="726.9" r="10.3" fill="#0b2a27" stroke="#1a1a1a" stroke-width="0.85"/>
<polygon points="43.5,743.9 48.6,734.2 60.4,734.2 65.5,743.9 60.4,753.6 48.6,753.6" fill="#0b2a27" stroke="#1a1a1a" stroke-width="0.85"/>
<circle cx="147.3" cy="753" r="10.3" fill="#e0346f" stroke="#1a1a1a" stroke-width="0.85"/>
<circle cx="11.2" cy="759.7" r="10.3" fill="#0b2a27" stroke="#1a1a1a" stroke-width="0.85"/>
<polygon points="98.8,762.8 108.8,752.4 118.8,762.8 108.8,773.2" fill="#e42420" stroke="#1a1a1a" stroke-width="0.85"/>
<circle cx="48.5" cy="778.4" r="10.3" fill="#e42420" stroke="#1a1a1a" stroke-width="0.85"/>
<circle cx="87.7" cy="788" r="10.3" fill="#e42420" stroke="#1a1a1a" stroke-width="0.85"/>
<polygon points="128.2,787.6 138.2,777.2 148.2,787.6 138.2,798" fill="#e42420" stroke="#1a1a1a" stroke-width="0.85"/>
<polygon points="3,805.4 8.1,795.7 19.9,795.7 25,805.4 19.9,815.1 8.1,815.1" fill="#0b2a27" stroke="#1a1a1a" stroke-width="0.85"/>
<polygon points="38.5,819.6 43.6,809.9 55.4,809.9 60.5,819.6 55.4,829.3 43.6,829.3" fill="#0b2a27" stroke="#1a1a1a" stroke-width="0.85"/>
<circle cx="94.3" cy="824" r="10.3" fill="#e42420" stroke="#1a1a1a" stroke-width="0.85"/>
<circle cx="128.3" cy="813.3" r="10.3" fill="#e42420" stroke="#1a1a1a" stroke-width="0.85"/>
<circle cx="122" cy="843" r="10.3" fill="#1a80ad" stroke="#1a1a1a" stroke-width="0.85"/>
<circle cx="39.5" cy="858" r="10.3" fill="#3c8c17" stroke="#1a1a1a" stroke-width="0.85"/>
<circle cx="83" cy="865" r="10.3" fill="#6f4a99" stroke="#1a1a1a" stroke-width="0.85"/>
<circle cx="33.6" cy="900" r="10.3" fill="#e0346f" stroke="#1a1a1a" stroke-width="0.85"/>
<circle cx="80.3" cy="904.1" r="10.3" fill="#e42420" stroke="#1a1a1a" stroke-width="0.85"/>
<circle cx="127.3" cy="900" r="10.3" fill="#2347a0" stroke="#1a1a1a" stroke-width="0.85"/>
<polygon points="221.6,694.2 226.7,684.5 238.5,684.5 243.6,694.2 238.5,703.9 226.7,703.9" fill="#0b2a27" stroke="#1a1a1a" stroke-width="0.85"/>
<circle cx="269.2" cy="688" r="10.3" fill="#e0346f" stroke="#1a1a1a" stroke-width="0.85"/>
<circle cx="202.5" cy="706.2" r="10.3" fill="#1a80ad" stroke="#1a1a1a" stroke-width="0.85"/>
<circle cx="285" cy="718.4" r="10.3" fill="#0b2a27" stroke="#1a1a1a" stroke-width="0.85"/>
<polygon points="230,727.8 235.1,718.1 246.9,718.1 252,727.8 246.9,737.5 235.1,737.5" fill="#0b2a27" stroke="#1a1a1a" stroke-width="0.85"/>
<circle cx="192" cy="733.8" r="10.3" fill="#3c8c17" stroke="#1a1a1a" stroke-width="0.85"/>
<circle cx="289" cy="744.5" r="10.3" fill="#0b2a27" stroke="#1a1a1a" stroke-width="0.85"/>
<circle cx="262" cy="756" r="10.3" fill="#1a80ad" stroke="#1a1a1a" stroke-width="0.85"/>
<polygon points="183.2,766.5 188.3,756.8 200.1,756.8 205.2,766.5 200.1,776.2 188.3,776.2" fill="#e42420" stroke="#1a1a1a" stroke-width="0.85"/>
<circle cx="230" cy="769.8" r="10.3" fill="#1a80ad" stroke="#1a1a1a" stroke-width="0.85"/>
<circle cx="288.5" cy="783.3" r="10.3" fill="#e42420" stroke="#1a1a1a" stroke-width="0.85"/>
<circle cx="247" cy="793.7" r="10.3" fill="#6f4a99" stroke="#1a1a1a" stroke-width="0.85"/>
<circle cx="180.8" cy="808.6" r="10.3" fill="#6f4a99" stroke="#1a1a1a" stroke-width="0.85"/>
<circle cx="213.8" cy="813.4" r="10.3" fill="#0b2a27" stroke="#1a1a1a" stroke-width="0.85"/>
<circle cx="282.9" cy="819.8" r="10.3" fill="#f0500f" stroke="#1a1a1a" stroke-width="0.85"/>
<circle cx="244.5" cy="841.3" r="10.3" fill="#3c8c17" stroke="#1a1a1a" stroke-width="0.85"/>
<circle cx="170.1" cy="843.2" r="10.3" fill="#0b2a27" stroke="#1a1a1a" stroke-width="0.85"/>
<circle cx="207.3" cy="856.2" r="10.3" fill="#f0500f" stroke="#1a1a1a" stroke-width="0.85"/>
<polygon points="274.7,860.8 279.8,851.1 291.6,851.1 296.7,860.8 291.6,870.5 279.8,870.5" fill="#0b2a27" stroke="#1a1a1a" stroke-width="0.85"/>
<circle cx="244.5" cy="869.2" r="10.3" fill="#1a80ad" stroke="#1a1a1a" stroke-width="0.85"/>
<circle cx="170.1" cy="876.8" r="10.3" fill="#3c8c17" stroke="#1a1a1a" stroke-width="0.85"/>
<polygon points="154.4,911 159.5,901.3 171.3,901.3 176.4,911 171.3,920.7 159.5,920.7" fill="#0b2a27" stroke="#1a1a1a" stroke-width="0.85"/>
<circle cx="206.5" cy="908.7" r="10.3" fill="#2347a0" stroke="#1a1a1a" stroke-width="0.85"/>
<circle cx="243.7" cy="908.7" r="10.3" fill="#1a80ad" stroke="#1a1a1a" stroke-width="0.85"/>
<polygon points="273.3,903.7 278.4,894 290.2,894 295.3,903.7 290.2,913.4 278.4,913.4" fill="#0b2a27" stroke="#1a1a1a" stroke-width="0.85"/>
<text x="123.6" y="687.1" font-size="6.8" text-anchor="middle" fill="#111" stroke="#111" stroke-width="0.22">METTL14</text>
<text x="85.3" y="702.6" font-size="6.8" text-anchor="middle" fill="#111" stroke="#111" stroke-width="0.22">YTHDF2</text>
<text x="153.5" y="706.3" font-size="6.8" text-anchor="middle" fill="#111" stroke="#111" stroke-width="0.22">TET2</text>
<text x="26.6" y="714.7" font-size="6.8" text-anchor="middle" fill="#111" stroke="#111" stroke-width="0.22">CMTR1</text>
<text x="74" y="724.2" font-size="6.8" text-anchor="middle" fill="#111" stroke="#111" stroke-width="0.22">EIF3A</text>
<text x="127.3" y="729.1" font-size="6.8" text-anchor="middle" fill="#111" stroke="#111" stroke-width="0.22">ZC3H13</text>
<text x="54.5" y="746.1" font-size="6.8" text-anchor="middle" fill="#111" stroke="#111" stroke-width="0.22">PRRC2A</text>
<text x="147.3" y="755.2" font-size="6.8" text-anchor="middle" fill="#111" stroke="#111" stroke-width="0.22">RNMT</text>
<text x="11.2" y="761.9" font-size="6.8" text-anchor="middle" fill="#111" stroke="#111" stroke-width="0.22">RBM15</text>
<text x="108.8" y="765" font-size="6.8" text-anchor="middle" fill="#111" stroke="#111" stroke-width="0.22">TET3</text>
<text x="48.5" y="780.6" font-size="6.8" text-anchor="middle" fill="#111" stroke="#111" stroke-width="0.22">DNMT1</text>
<text x="87.7" y="790.2" font-size="6.8" text-anchor="middle" fill="#111" stroke="#111" stroke-width="0.22">DNMT3A</text>
<text x="138.2" y="789.8" font-size="6.8" text-anchor="middle" fill="#111" stroke="#111" stroke-width="0.22">TET1</text>
<text x="14" y="807.6" font-size="6.8" text-anchor="middle" fill="#111" stroke="#111" stroke-width="0.22">ELAVL1</text>
<text x="49.5" y="821.8" font-size="6.8" text-anchor="middle" fill="#111" stroke="#111" stroke-width="0.22">HNRNPA2B1</text>
<text x="94.3" y="826.2" font-size="6.8" text-anchor="middle" fill="#111" stroke="#111" stroke-width="0.22">DNMT3B</text>
<text x="128.3" y="815.5" font-size="6.8" text-anchor="middle" fill="#111" stroke="#111" stroke-width="0.22">NOP2</text>
<text x="122" y="845.2" font-size="6.8" text-anchor="middle" fill="#111" stroke="#111" stroke-width="0.22">PUS1</text>
<text x="39.5" y="860.2" font-size="6.8" text-anchor="middle" fill="#111" stroke="#111" stroke-width="0.22">TRMT61A</text>
<text x="83" y="867.2" font-size="6.8" text-anchor="middle" fill="#111" stroke="#111" stroke-width="0.22">MRM1</text>
<text x="33.6" y="902.2" font-size="6.8" text-anchor="middle" fill="#111" stroke="#111" stroke-width="0.22">BUD23</text>
<text x="80.3" y="906.3" font-size="6.8" text-anchor="middle" fill="#111" stroke="#111" stroke-width="0.22">NSUN5</text>
<text x="127.3" y="902.2" font-size="6.8" text-anchor="middle" fill="#111" stroke="#111" stroke-width="0.22">CTU2</text>
<text x="232.6" y="696.4" font-size="6.8" text-anchor="middle" fill="#111" stroke="#111" stroke-width="0.22">YTHDF3</text>
<text x="269.2" y="690.2" font-size="6.8" text-anchor="middle" fill="#111" stroke="#111" stroke-width="0.22">TGS1</text>
<text x="202.5" y="708.4" font-size="6.8" text-anchor="middle" fill="#111" stroke="#111" stroke-width="0.22">TRUB1</text>
<text x="285" y="720.6" font-size="6.8" text-anchor="middle" fill="#111" stroke="#111" stroke-width="0.22">KIAA1429</text>
<text x="241" y="730" font-size="6.8" text-anchor="middle" fill="#111" stroke="#111" stroke-width="0.22">HNRNPC</text>
<text x="192" y="736" font-size="6.8" text-anchor="middle" fill="#111" stroke="#111" stroke-width="0.22">TRMT61B</text>
<text x="289" y="746.7" font-size="6.8" text-anchor="middle" fill="#111" stroke="#111" stroke-width="0.22">WTAP</text>
<text x="262" y="758.2" font-size="6.8" text-anchor="middle" fill="#111" stroke="#111" stroke-width="0.22">PUS7</text>
<text x="194.2" y="768.7" font-size="6.8" text-anchor="middle" fill="#111" stroke="#111" stroke-width="0.22">ALYREF</text>
<text x="230" y="772" font-size="6.8" text-anchor="middle" fill="#111" stroke="#111" stroke-width="0.22">DKC1</text>
<text x="288.5" y="785.5" font-size="6.8" text-anchor="middle" fill="#111" stroke="#111" stroke-width="0.22">NSUN6</text>
<text x="247" y="795.9" font-size="6.8" text-anchor="middle" fill="#111" stroke="#111" stroke-width="0.22">TARBP1</text>
<text x="180.8" y="810.8" font-size="6.8" text-anchor="middle" fill="#111" stroke="#111" stroke-width="0.22">TRMT11</text>
<text x="213.8" y="815.6" font-size="6.8" text-anchor="middle" fill="#111" stroke="#111" stroke-width="0.22">METTL3</text>
<text x="282.9" y="822" font-size="6.8" text-anchor="middle" fill="#111" stroke="#111" stroke-width="0.22">ADAT2</text>
<text x="244.5" y="843.5" font-size="6.8" text-anchor="middle" fill="#111" stroke="#111" stroke-width="0.22">TRMT10B</text>
<text x="170.1" y="845.4" font-size="6.8" text-anchor="middle" fill="#111" stroke="#111" stroke-width="0.22">METTL16</text>
<text x="207.3" y="858.4" font-size="6.8" text-anchor="middle" fill="#111" stroke="#111" stroke-width="0.22">ADAT3</text>
<text x="285.7" y="863" font-size="6.8" text-anchor="middle" fill="#111" stroke="#111" stroke-width="0.22">YTHDC1</text>
<text x="244.5" y="871.4" font-size="6.8" text-anchor="middle" fill="#111" stroke="#111" stroke-width="0.22">PUS3</text>
<text x="170.1" y="879" font-size="6.8" text-anchor="middle" fill="#111" stroke="#111" stroke-width="0.22">TRMT10C</text>
<text x="165.4" y="913.2" font-size="6.8" text-anchor="middle" fill="#111" stroke="#111" stroke-width="0.22">HNRNPC</text>
<text x="206.5" y="910.9" font-size="6.8" text-anchor="middle" fill="#111" stroke="#111" stroke-width="0.22">CTU1</text>
<text x="243.7" y="910.9" font-size="6.8" text-anchor="middle" fill="#111" stroke="#111" stroke-width="0.22">RPUSD4</text>
<text x="284.3" y="905.9" font-size="6.8" text-anchor="middle" fill="#111" stroke="#111" stroke-width="0.22">FMR1</text>
<rect x="0" y="934.1" width="18.9" height="5.2" fill="#135e66"/>
<text x="25.7" y="938.7" font-size="7.9" textLength="14.2" lengthAdjust="spacingAndGlyphs" fill="#3a3a3a" stroke="#3a3a3a" stroke-width="0.18">M6A</text>
<rect x="0" y="949.3" width="18.9" height="5.2" fill="#e42323"/>
<text x="25.7" y="953.9" font-size="7.9" textLength="14.2" lengthAdjust="spacingAndGlyphs" fill="#3a3a3a" stroke="#3a3a3a" stroke-width="0.18">M5C</text>
<rect x="0" y="964.5" width="18.9" height="5.2" fill="#3c8c1c"/>
<text x="25.7" y="969.1" font-size="7.9" textLength="14.2" lengthAdjust="spacingAndGlyphs" fill="#3a3a3a" stroke="#3a3a3a" stroke-width="0.18">M1A</text>
<rect x="0" y="979.7" width="18.9" height="5.2" fill="#f04a0a"/>
<text x="25.7" y="984.3" font-size="7.9" textLength="17.3" lengthAdjust="spacingAndGlyphs" fill="#3a3a3a" stroke="#3a3a3a" stroke-width="0.18">A-to-I</text>
<rect x="74.4" y="934.1" width="18.5" height="5.2" fill="#e0336e"/>
<text x="99.9" y="938.7" font-size="7.9" textLength="14.2" lengthAdjust="spacingAndGlyphs" fill="#3a3a3a" stroke="#3a3a3a" stroke-width="0.18">M7G</text>
<rect x="74.4" y="949.3" width="18.5" height="5.2" fill="#6f4a9a"/>
<text x="99.9" y="953.9" font-size="7.9" textLength="10" lengthAdjust="spacingAndGlyphs" fill="#3a3a3a" stroke="#3a3a3a" stroke-width="0.18">Nm</text>
<rect x="74.4" y="964.5" width="18.5" height="5.2" fill="#1f3f96"/>
<text x="99.9" y="969.1" font-size="7.9" textLength="28.3" lengthAdjust="spacingAndGlyphs" fill="#3a3a3a" stroke="#3a3a3a" stroke-width="0.18">mcm5s2U</text>
<rect x="74.4" y="979.7" width="18.5" height="5.2" fill="#1a7fb0"/>
<text x="99.9" y="984.3" font-size="7.9" fill="#3a3a3a" stroke="#3a3a3a" stroke-width="0.18">ψ</text>
<circle cx="166.3" cy="937.8" r="5" fill="none" stroke="#3a3a3a" stroke-width="1.1"/>
<polygon points="160.7,953.6 163.5,948.7 169.1,948.7 171.9,953.6 169.1,958.5 163.5,958.5" fill="none" stroke="#3a3a3a" stroke-width="1.1"/>
<polygon points="160.7,969.8 166.3,964.2 171.9,969.8 166.3,975.4" fill="none" stroke="#3a3a3a" stroke-width="1.1"/>
<text x="178.3" y="939.3" font-size="7.9" textLength="18.4" lengthAdjust="spacingAndGlyphs" fill="#3a3a3a" stroke="#3a3a3a" stroke-width="0.18">Writer</text>
<text x="178.3" y="955.6" font-size="7.9" textLength="19.7" lengthAdjust="spacingAndGlyphs" fill="#3a3a3a" stroke="#3a3a3a" stroke-width="0.18">Reader</text>
<text x="178.3" y="971.3" font-size="7.9" textLength="17.6" lengthAdjust="spacingAndGlyphs" fill="#3a3a3a" stroke="#3a3a3a" stroke-width="0.18">Eraser</text>
<line x1="226.6" y1="936.5" x2="245" y2="936.5" stroke="#333" stroke-width="1"/>
<line x1="226.6" y1="952" x2="245" y2="952" stroke="#222" stroke-width="2"/>
<text x="251.8" y="938.6" font-size="7.9" textLength="28" lengthAdjust="spacingAndGlyphs" fill="#3a3a3a" stroke="#3a3a3a" stroke-width="0.18">r (0.5–0.6)</text>
<text x="251.8" y="954.1" font-size="7.9" textLength="28" lengthAdjust="spacingAndGlyphs" fill="#3a3a3a" stroke="#3a3a3a" stroke-width="0.18">r (0.6–0.7)</text>
<text x="147" y="1004.6" font-size="11.2" text-anchor="middle" fill="#231f20">(g)</text>
<rect x="347.9" y="722.3" width="232.10000000000002" height="220.4000000000001" fill="#fff"/>
<line x1="355.1" y1="722.3" x2="355.1" y2="942.7" stroke="#ebebeb" stroke-width="0.8"/>
<line x1="382.4" y1="722.3" x2="382.4" y2="942.7" stroke="#d6d6d6" stroke-width="1"/>
<line x1="409.7" y1="722.3" x2="409.7" y2="942.7" stroke="#ebebeb" stroke-width="0.8"/>
<line x1="437" y1="722.3" x2="437" y2="942.7" stroke="#d6d6d6" stroke-width="1"/>
<line x1="464.3" y1="722.3" x2="464.3" y2="942.7" stroke="#ebebeb" stroke-width="0.8"/>
<line x1="491.6" y1="722.3" x2="491.6" y2="942.7" stroke="#d6d6d6" stroke-width="1"/>
<line x1="518.9" y1="722.3" x2="518.9" y2="942.7" stroke="#ebebeb" stroke-width="0.8"/>
<line x1="546.2" y1="722.3" x2="546.2" y2="942.7" stroke="#d6d6d6" stroke-width="1"/>
<line x1="573.5" y1="722.3" x2="573.5" y2="942.7" stroke="#ebebeb" stroke-width="0.8"/>
<line x1="347.9" y1="914.3" x2="580" y2="914.3" stroke="#ebebeb" stroke-width="0.8"/>
<line x1="347.9" y1="883.7" x2="580" y2="883.7" stroke="#d6d6d6" stroke-width="1"/>
<line x1="347.9" y1="853.1" x2="580" y2="853.1" stroke="#ebebeb" stroke-width="0.8"/>
<line x1="347.9" y1="822.5" x2="580" y2="822.5" stroke="#d6d6d6" stroke-width="1"/>
<line x1="347.9" y1="791.9" x2="580" y2="791.9" stroke="#ebebeb" stroke-width="0.8"/>
<line x1="347.9" y1="761.3" x2="580" y2="761.3" stroke="#d6d6d6" stroke-width="1"/>
<line x1="347.9" y1="730.7" x2="580" y2="730.7" stroke="#ebebeb" stroke-width="0.8"/>
<circle cx="406.1" cy="848" r="1.6" fill="#0d6b6b"/>
<circle cx="452.2" cy="831.2" r="1.6" fill="#0d6b6b"/>
<circle cx="404" cy="857.7" r="1.6" fill="#0d6b6b"/>
<circle cx="441.5" cy="809.3" r="1.6" fill="#0d6b6b"/>
<circle cx="406.3" cy="878.5" r="1.6" fill="#0d6b6b"/>
<circle cx="446.2" cy="817.4" r="1.6" fill="#0d6b6b"/>
<circle cx="463.4" cy="795.7" r="1.6" fill="#0d6b6b"/>
<circle cx="429.4" cy="843.2" r="1.6" fill="#0d6b6b"/>
<circle cx="484.9" cy="803.6" r="1.6" fill="#0d6b6b"/>
<circle cx="415.3" cy="869.3" r="1.6" fill="#0d6b6b"/>
<circle cx="433.5" cy="832.6" r="1.6" fill="#0d6b6b"/>
<circle cx="424.4" cy="842.9" r="1.6" fill="#0d6b6b"/>
<circle cx="437.2" cy="819.9" r="1.6" fill="#0d6b6b"/>
<circle cx="454.3" cy="816.4" r="1.6" fill="#0d6b6b"/>
<circle cx="394.4" cy="850.5" r="1.6" fill="#0d6b6b"/>
<circle cx="402.1" cy="861" r="1.6" fill="#0d6b6b"/>
<circle cx="401" cy="858.6" r="1.6" fill="#0d6b6b"/>
<circle cx="415.4" cy="844.3" r="1.6" fill="#0d6b6b"/>
<circle cx="500" cy="788.3" r="1.6" fill="#0d6b6b"/>
<circle cx="449" cy="848.4" r="1.6" fill="#0d6b6b"/>
<circle cx="425.6" cy="828.8" r="1.6" fill="#0d6b6b"/>
<circle cx="429.6" cy="831.2" r="1.6" fill="#0d6b6b"/>
<circle cx="433.7" cy="853.6" r="1.6" fill="#0d6b6b"/>
<circle cx="443.2" cy="843.1" r="1.6" fill="#0d6b6b"/>
<circle cx="470.4" cy="818" r="1.6" fill="#0d6b6b"/>
<circle cx="445.8" cy="826.4" r="1.6" fill="#0d6b6b"/>
<circle cx="451.3" cy="833.5" r="1.6" fill="#0d6b6b"/>
<circle cx="452.3" cy="824" r="1.6" fill="#0d6b6b"/>
<circle cx="457.8" cy="806.3" r="1.6" fill="#0d6b6b"/>
<circle cx="434.5" cy="848.9" r="1.6" fill="#0d6b6b"/>
<circle cx="447.5" cy="816.6" r="1.6" fill="#0d6b6b"/>
<circle cx="465.6" cy="819.1" r="1.6" fill="#0d6b6b"/>
<circle cx="443.1" cy="819" r="1.6" fill="#0d6b6b"/>
<circle cx="437.4" cy="828.6" r="1.6" fill="#0d6b6b"/>
<circle cx="435.3" cy="844.9" r="1.6" fill="#0d6b6b"/>
<circle cx="410.5" cy="859.1" r="1.6" fill="#0d6b6b"/>
<circle cx="443.8" cy="800.1" r="1.6" fill="#0d6b6b"/>
<circle cx="451.8" cy="802.7" r="1.6" fill="#0d6b6b"/>
<circle cx="447.7" cy="812.2" r="1.6" fill="#0d6b6b"/>
<circle cx="435.3" cy="819.7" r="1.6" fill="#0d6b6b"/>
<circle cx="468.3" cy="816.2" r="1.6" fill="#0d6b6b"/>
<circle cx="417.1" cy="811" r="1.6" fill="#0d6b6b"/>
<circle cx="436.6" cy="815.2" r="1.6" fill="#0d6b6b"/>
<circle cx="449.7" cy="844.5" r="1.6" fill="#0d6b6b"/>
<circle cx="482" cy="767.7" r="1.6" fill="#0d6b6b"/>
<circle cx="435.2" cy="820.2" r="1.6" fill="#0d6b6b"/>
<circle cx="434.2" cy="851" r="1.6" fill="#0d6b6b"/>
<circle cx="429.2" cy="831.5" r="1.6" fill="#0d6b6b"/>
<circle cx="454.7" cy="807" r="1.6" fill="#0d6b6b"/>
<circle cx="432.8" cy="810.9" r="1.6" fill="#0d6b6b"/>
<circle cx="415.8" cy="833.4" r="1.6" fill="#0d6b6b"/>
<circle cx="454.6" cy="825.4" r="1.6" fill="#0d6b6b"/>
<circle cx="394.4" cy="880" r="1.6" fill="#0d6b6b"/>
<circle cx="436.5" cy="823.4" r="1.6" fill="#0d6b6b"/>
<circle cx="463.7" cy="832" r="1.6" fill="#0d6b6b"/>
<circle cx="431.6" cy="824.7" r="1.6" fill="#0d6b6b"/>
<circle cx="428.3" cy="882.5" r="1.6" fill="#0d6b6b"/>
<circle cx="448.3" cy="782.2" r="1.6" fill="#0d6b6b"/>
<circle cx="452.4" cy="838.5" r="1.6" fill="#0d6b6b"/>
<circle cx="423" cy="838.7" r="1.6" fill="#0d6b6b"/>
<circle cx="483.2" cy="788.2" r="1.6" fill="#0d6b6b"/>
<circle cx="433.9" cy="806.4" r="1.6" fill="#0d6b6b"/>
<circle cx="429.8" cy="803.7" r="1.6" fill="#0d6b6b"/>
<circle cx="417.3" cy="855.6" r="1.6" fill="#0d6b6b"/>
<circle cx="446.5" cy="799.7" r="1.6" fill="#0d6b6b"/>
<circle cx="445.1" cy="821.3" r="1.6" fill="#0d6b6b"/>
<circle cx="393.7" cy="876.9" r="1.6" fill="#0d6b6b"/>
<circle cx="418.9" cy="855.6" r="1.6" fill="#0d6b6b"/>
<circle cx="443.7" cy="834" r="1.6" fill="#0d6b6b"/>
<circle cx="447.9" cy="823.4" r="1.6" fill="#0d6b6b"/>
<circle cx="424.6" cy="839.4" r="1.6" fill="#0d6b6b"/>
<circle cx="440.4" cy="814.5" r="1.6" fill="#0d6b6b"/>
<circle cx="421.6" cy="848.1" r="1.6" fill="#0d6b6b"/>
<circle cx="403.2" cy="827.6" r="1.6" fill="#0d6b6b"/>
<circle cx="461.7" cy="818.3" r="1.6" fill="#0d6b6b"/>
<circle cx="421.6" cy="866.5" r="1.6" fill="#0d6b6b"/>
<circle cx="435.1" cy="830.3" r="1.6" fill="#0d6b6b"/>
<circle cx="476.8" cy="799.6" r="1.6" fill="#0d6b6b"/>
<circle cx="415.4" cy="893.1" r="1.6" fill="#0d6b6b"/>
<circle cx="460.8" cy="812.1" r="1.6" fill="#0d6b6b"/>
<circle cx="398.2" cy="857.4" r="1.6" fill="#0d6b6b"/>
<circle cx="398.2" cy="796.8" r="1.6" fill="#0d6b6b"/>
<circle cx="454.8" cy="809.4" r="1.6" fill="#0d6b6b"/>
<circle cx="427.9" cy="878.5" r="1.6" fill="#0d6b6b"/>
<circle cx="428.9" cy="867.1" r="1.6" fill="#0d6b6b"/>
<circle cx="443.9" cy="867" r="1.6" fill="#0d6b6b"/>
<circle cx="412.7" cy="827.8" r="1.6" fill="#0d6b6b"/>
<circle cx="465.6" cy="833.8" r="1.6" fill="#0d6b6b"/>
<circle cx="399.7" cy="843.4" r="1.6" fill="#0d6b6b"/>
<circle cx="449.2" cy="842" r="1.6" fill="#0d6b6b"/>
<circle cx="417.1" cy="859.8" r="1.6" fill="#0d6b6b"/>
<circle cx="406.9" cy="866.9" r="1.6" fill="#0d6b6b"/>
<circle cx="457.5" cy="805.3" r="1.6" fill="#0d6b6b"/>
<circle cx="474.2" cy="807.5" r="1.6" fill="#0d6b6b"/>
<circle cx="428.7" cy="856.7" r="1.6" fill="#0d6b6b"/>
<circle cx="429" cy="862.6" r="1.6" fill="#0d6b6b"/>
<circle cx="394.7" cy="850.4" r="1.6" fill="#0d6b6b"/>
<circle cx="461.4" cy="799.8" r="1.6" fill="#0d6b6b"/>
<circle cx="459.2" cy="812.1" r="1.6" fill="#0d6b6b"/>
<circle cx="416.6" cy="845.8" r="1.6" fill="#0d6b6b"/>
<circle cx="423.8" cy="862.6" r="1.6" fill="#0d6b6b"/>
<circle cx="396.4" cy="889.1" r="1.6" fill="#0d6b6b"/>
<circle cx="431.4" cy="834" r="1.6" fill="#0d6b6b"/>
<circle cx="421.7" cy="817.5" r="1.6" fill="#0d6b6b"/>
<circle cx="435.3" cy="823.3" r="1.6" fill="#0d6b6b"/>
<circle cx="456.8" cy="833.5" r="1.6" fill="#0d6b6b"/>
<circle cx="390.7" cy="852.2" r="1.6" fill="#0d6b6b"/>
<circle cx="417.3" cy="822.9" r="1.6" fill="#0d6b6b"/>
<circle cx="438.5" cy="813.1" r="1.6" fill="#0d6b6b"/>
<circle cx="447.4" cy="863.4" r="1.6" fill="#0d6b6b"/>
<circle cx="446.5" cy="838.3" r="1.6" fill="#0d6b6b"/>
<circle cx="415.9" cy="855.9" r="1.6" fill="#0d6b6b"/>
<circle cx="447.5" cy="808.9" r="1.6" fill="#0d6b6b"/>
<circle cx="452.5" cy="852" r="1.6" fill="#0d6b6b"/>
<circle cx="419.3" cy="889.1" r="1.6" fill="#0d6b6b"/>
<circle cx="429.4" cy="827.2" r="1.6" fill="#0d6b6b"/>
<circle cx="415.7" cy="843.6" r="1.6" fill="#0d6b6b"/>
<circle cx="436.3" cy="814.7" r="1.6" fill="#0d6b6b"/>
<circle cx="414.5" cy="864.1" r="1.6" fill="#0d6b6b"/>
<circle cx="415.7" cy="815.9" r="1.6" fill="#0d6b6b"/>
<circle cx="454.2" cy="822.6" r="1.6" fill="#0d6b6b"/>
<circle cx="436.2" cy="831.2" r="1.6" fill="#0d6b6b"/>
<circle cx="435.8" cy="837.4" r="1.6" fill="#0d6b6b"/>
<circle cx="424.6" cy="864.7" r="1.6" fill="#0d6b6b"/>
<circle cx="418.2" cy="815.9" r="1.6" fill="#0d6b6b"/>
<circle cx="442.7" cy="827.4" r="1.6" fill="#0d6b6b"/>
<circle cx="427.1" cy="838.7" r="1.6" fill="#0d6b6b"/>
<circle cx="438.9" cy="843.2" r="1.6" fill="#0d6b6b"/>
<circle cx="435.6" cy="829.3" r="1.6" fill="#0d6b6b"/>
<circle cx="416" cy="862.3" r="1.6" fill="#0d6b6b"/>
<circle cx="410.8" cy="871.1" r="1.6" fill="#0d6b6b"/>
<circle cx="450" cy="866.7" r="1.6" fill="#0d6b6b"/>
<circle cx="426" cy="851.9" r="1.6" fill="#0d6b6b"/>
<circle cx="418.7" cy="844.1" r="1.6" fill="#0d6b6b"/>
<circle cx="454.9" cy="818.4" r="1.6" fill="#0d6b6b"/>
<circle cx="428.6" cy="850" r="1.6" fill="#0d6b6b"/>
<circle cx="428.9" cy="821.8" r="1.6" fill="#0d6b6b"/>
<circle cx="423.4" cy="863.6" r="1.6" fill="#0d6b6b"/>
<circle cx="405.3" cy="875.8" r="1.6" fill="#0d6b6b"/>
<circle cx="402.7" cy="837.2" r="1.6" fill="#0d6b6b"/>
<circle cx="438.9" cy="835.7" r="1.6" fill="#0d6b6b"/>
<circle cx="461.8" cy="826.9" r="1.6" fill="#0d6b6b"/>
<circle cx="447.2" cy="810.7" r="1.6" fill="#0d6b6b"/>
<circle cx="399.5" cy="888.3" r="1.6" fill="#0d6b6b"/>
<circle cx="412.3" cy="833.8" r="1.6" fill="#0d6b6b"/>
<circle cx="458.4" cy="839.8" r="1.6" fill="#0d6b6b"/>
<circle cx="453.3" cy="828" r="1.6" fill="#0d6b6b"/>
<circle cx="423.4" cy="852.6" r="1.6" fill="#0d6b6b"/>
<circle cx="424.8" cy="874.9" r="1.6" fill="#0d6b6b"/>
<circle cx="410.8" cy="874.3" r="1.6" fill="#0d6b6b"/>
<circle cx="441.7" cy="791" r="1.6" fill="#0d6b6b"/>
<circle cx="488.2" cy="802" r="1.6" fill="#0d6b6b"/>
<circle cx="395.8" cy="869.8" r="1.6" fill="#0d6b6b"/>
<circle cx="412.1" cy="814.3" r="1.6" fill="#0d6b6b"/>
<circle cx="443.4" cy="841.5" r="1.6" fill="#0d6b6b"/>
<circle cx="451" cy="812.8" r="1.6" fill="#0d6b6b"/>
<circle cx="397.8" cy="870.7" r="1.6" fill="#0d6b6b"/>
<circle cx="426.6" cy="839.9" r="1.6" fill="#0d6b6b"/>
<circle cx="434.3" cy="840.9" r="1.6" fill="#0d6b6b"/>
<circle cx="435.5" cy="844.6" r="1.6" fill="#0d6b6b"/>
<circle cx="412.9" cy="822.2" r="1.6" fill="#0d6b6b"/>
<circle cx="439" cy="823.2" r="1.6" fill="#0d6b6b"/>
<circle cx="398.4" cy="863.5" r="1.6" fill="#0d6b6b"/>
<circle cx="448.5" cy="848.1" r="1.6" fill="#0d6b6b"/>
<circle cx="454.3" cy="827.4" r="1.6" fill="#0d6b6b"/>
<circle cx="439.9" cy="833.1" r="1.6" fill="#0d6b6b"/>
<circle cx="436.1" cy="811.3" r="1.6" fill="#0d6b6b"/>
<circle cx="423.2" cy="814" r="1.6" fill="#0d6b6b"/>
<circle cx="415.3" cy="865.4" r="1.6" fill="#0d6b6b"/>
<circle cx="446.3" cy="845.6" r="1.6" fill="#0d6b6b"/>
<circle cx="423.9" cy="825.5" r="1.6" fill="#0d6b6b"/>
<circle cx="456.7" cy="851.2" r="1.6" fill="#0d6b6b"/>
<circle cx="442" cy="794.5" r="1.6" fill="#0d6b6b"/>
<circle cx="456.3" cy="823.2" r="1.6" fill="#0d6b6b"/>
<circle cx="419.1" cy="851.1" r="1.6" fill="#0d6b6b"/>
<circle cx="407.6" cy="858.7" r="1.6" fill="#0d6b6b"/>
<circle cx="427.7" cy="842.1" r="1.6" fill="#0d6b6b"/>
<circle cx="456.1" cy="823.2" r="1.6" fill="#0d6b6b"/>
<circle cx="401.3" cy="839.1" r="1.6" fill="#0d6b6b"/>
<circle cx="409.3" cy="860.9" r="1.6" fill="#0d6b6b"/>
<circle cx="428.8" cy="845" r="1.6" fill="#0d6b6b"/>
<circle cx="410.7" cy="856.2" r="1.6" fill="#0d6b6b"/>
<circle cx="476.9" cy="815.2" r="1.6" fill="#0d6b6b"/>
<circle cx="428.7" cy="818.1" r="1.6" fill="#0d6b6b"/>
<circle cx="447" cy="811.5" r="1.6" fill="#0d6b6b"/>
<circle cx="449.4" cy="859.9" r="1.6" fill="#0d6b6b"/>
<circle cx="413.6" cy="847.2" r="1.6" fill="#0d6b6b"/>
<circle cx="441.9" cy="805.4" r="1.6" fill="#0d6b6b"/>
<circle cx="441.3" cy="834" r="1.6" fill="#0d6b6b"/>
<circle cx="432.4" cy="839.9" r="1.6" fill="#0d6b6b"/>
<circle cx="436.7" cy="820.6" r="1.6" fill="#0d6b6b"/>
<circle cx="424.5" cy="856.7" r="1.6" fill="#0d6b6b"/>
<circle cx="413.8" cy="829.3" r="1.6" fill="#0d6b6b"/>
<circle cx="458.1" cy="799.3" r="1.6" fill="#0d6b6b"/>
<circle cx="449.3" cy="808.6" r="1.6" fill="#0d6b6b"/>
<circle cx="431.5" cy="824.5" r="1.6" fill="#0d6b6b"/>
<circle cx="409.7" cy="856.1" r="1.6" fill="#0d6b6b"/>
<circle cx="416.3" cy="834.3" r="1.6" fill="#0d6b6b"/>
<circle cx="419.5" cy="847.3" r="1.6" fill="#0d6b6b"/>
<circle cx="439.8" cy="805.8" r="1.6" fill="#0d6b6b"/>
<circle cx="415.1" cy="865.7" r="1.6" fill="#0d6b6b"/>
<circle cx="448.5" cy="844.8" r="1.6" fill="#0d6b6b"/>
<circle cx="440.9" cy="840.4" r="1.6" fill="#0d6b6b"/>
<circle cx="429.3" cy="871.7" r="1.6" fill="#0d6b6b"/>
<circle cx="446.3" cy="835.2" r="1.6" fill="#0d6b6b"/>
<circle cx="412.9" cy="811.9" r="1.6" fill="#0d6b6b"/>
<circle cx="446.3" cy="761.6" r="1.6" fill="#0d6b6b"/>
<circle cx="440" cy="837" r="1.6" fill="#0d6b6b"/>
<circle cx="433.8" cy="805.5" r="1.6" fill="#0d6b6b"/>
<circle cx="431" cy="828.8" r="1.6" fill="#0d6b6b"/>
<circle cx="442.3" cy="845.6" r="1.6" fill="#0d6b6b"/>
<circle cx="434.2" cy="844" r="1.6" fill="#0d6b6b"/>
<circle cx="405.7" cy="839.2" r="1.6" fill="#0d6b6b"/>
<circle cx="445.4" cy="825.3" r="1.6" fill="#0d6b6b"/>
<circle cx="412.7" cy="887" r="1.6" fill="#0d6b6b"/>
<circle cx="441.6" cy="831.2" r="1.6" fill="#0d6b6b"/>
<circle cx="396.6" cy="862.9" r="1.6" fill="#0d6b6b"/>
<circle cx="400" cy="859.9" r="1.6" fill="#0d6b6b"/>
<circle cx="434.5" cy="828" r="1.6" fill="#0d6b6b"/>
<circle cx="436" cy="830.3" r="1.6" fill="#0d6b6b"/>
<circle cx="407.9" cy="860.7" r="1.6" fill="#0d6b6b"/>
<circle cx="420.9" cy="848.6" r="1.6" fill="#0d6b6b"/>
<circle cx="437.1" cy="821.3" r="1.6" fill="#0d6b6b"/>
<circle cx="465.5" cy="859.4" r="1.6" fill="#0d6b6b"/>
<circle cx="439.9" cy="834.3" r="1.6" fill="#0d6b6b"/>
<circle cx="478.8" cy="785.5" r="1.6" fill="#0d6b6b"/>
<circle cx="397.2" cy="854" r="1.6" fill="#0d6b6b"/>
<circle cx="420.7" cy="826.2" r="1.6" fill="#0d6b6b"/>
<circle cx="409.6" cy="854.3" r="1.6" fill="#0d6b6b"/>
<circle cx="428.8" cy="840.4" r="1.6" fill="#0d6b6b"/>
<circle cx="419.4" cy="879.1" r="1.6" fill="#0d6b6b"/>
<circle cx="441.1" cy="811.4" r="1.6" fill="#0d6b6b"/>
<circle cx="430.1" cy="856.3" r="1.6" fill="#0d6b6b"/>
<circle cx="435.8" cy="823.2" r="1.6" fill="#0d6b6b"/>
<circle cx="427.9" cy="839.5" r="1.6" fill="#0d6b6b"/>
<circle cx="460.8" cy="836.2" r="1.6" fill="#0d6b6b"/>
<circle cx="420" cy="880" r="1.6" fill="#0d6b6b"/>
<circle cx="417" cy="860.7" r="1.6" fill="#0d6b6b"/>
<circle cx="411.6" cy="863.7" r="1.6" fill="#0d6b6b"/>
<circle cx="468.8" cy="813.4" r="1.6" fill="#0d6b6b"/>
<circle cx="429.2" cy="798" r="1.6" fill="#0d6b6b"/>
<circle cx="430.3" cy="869.4" r="1.6" fill="#0d6b6b"/>
<circle cx="439.9" cy="847.8" r="1.6" fill="#0d6b6b"/>
<circle cx="465.5" cy="835.1" r="1.6" fill="#0d6b6b"/>
<circle cx="419.5" cy="874.8" r="1.6" fill="#0d6b6b"/>
<circle cx="433.6" cy="853.8" r="1.6" fill="#0d6b6b"/>
<circle cx="430.2" cy="844.5" r="1.6" fill="#0d6b6b"/>
<circle cx="418.8" cy="828.5" r="1.6" fill="#0d6b6b"/>
<circle cx="450.9" cy="821.5" r="1.6" fill="#0d6b6b"/>
<circle cx="412.9" cy="869.7" r="1.6" fill="#0d6b6b"/>
<circle cx="437.1" cy="788.7" r="1.6" fill="#0d6b6b"/>
<circle cx="422.1" cy="857.9" r="1.6" fill="#0d6b6b"/>
<circle cx="417.1" cy="867.2" r="1.6" fill="#0d6b6b"/>
<circle cx="411.4" cy="854.9" r="1.6" fill="#0d6b6b"/>
<circle cx="461.3" cy="815.3" r="1.6" fill="#0d6b6b"/>
<circle cx="420.9" cy="873.9" r="1.6" fill="#0d6b6b"/>
<circle cx="436" cy="834" r="1.6" fill="#0d6b6b"/>
<circle cx="406.1" cy="874.9" r="1.6" fill="#0d6b6b"/>
<circle cx="430.7" cy="818.7" r="1.6" fill="#0d6b6b"/>
<circle cx="444.5" cy="823.5" r="1.6" fill="#0d6b6b"/>
<circle cx="424.8" cy="835.6" r="1.6" fill="#0d6b6b"/>
<circle cx="431.3" cy="796.9" r="1.6" fill="#0d6b6b"/>
<circle cx="408" cy="860.3" r="1.6" fill="#0d6b6b"/>
<circle cx="457.8" cy="822.6" r="1.6" fill="#0d6b6b"/>
<circle cx="461.1" cy="816.2" r="1.6" fill="#0d6b6b"/>
<circle cx="434.6" cy="841.3" r="1.6" fill="#0d6b6b"/>
<circle cx="402.9" cy="875.1" r="1.6" fill="#0d6b6b"/>
<circle cx="477.5" cy="791.7" r="1.6" fill="#0d6b6b"/>
<circle cx="444.1" cy="810.1" r="1.6" fill="#0d6b6b"/>
<circle cx="443.3" cy="809.4" r="1.6" fill="#0d6b6b"/>
<circle cx="426" cy="844.7" r="1.6" fill="#0d6b6b"/>
<circle cx="452" cy="828.4" r="1.6" fill="#0d6b6b"/>
<circle cx="403.9" cy="860.7" r="1.6" fill="#0d6b6b"/>
<circle cx="420.2" cy="833.5" r="1.6" fill="#0d6b6b"/>
<circle cx="416.6" cy="866.9" r="1.6" fill="#0d6b6b"/>
<circle cx="424.7" cy="813.1" r="1.6" fill="#0d6b6b"/>
<circle cx="430.5" cy="834.4" r="1.6" fill="#0d6b6b"/>
<circle cx="431.7" cy="831.1" r="1.6" fill="#0d6b6b"/>
<circle cx="450.8" cy="797.2" r="1.6" fill="#0d6b6b"/>
<circle cx="397.4" cy="836.2" r="1.6" fill="#0d6b6b"/>
<circle cx="431.5" cy="842.6" r="1.6" fill="#0d6b6b"/>
<circle cx="481.3" cy="804" r="1.6" fill="#0d6b6b"/>
<circle cx="471.9" cy="789.8" r="1.6" fill="#0d6b6b"/>
<circle cx="410.2" cy="843.1" r="1.6" fill="#0d6b6b"/>
<circle cx="446.8" cy="828" r="1.6" fill="#0d6b6b"/>
<circle cx="383.2" cy="877.7" r="1.6" fill="#0d6b6b"/>
<circle cx="427.6" cy="859.8" r="1.6" fill="#0d6b6b"/>
<circle cx="469.4" cy="813.9" r="1.6" fill="#0d6b6b"/>
<circle cx="423.4" cy="848" r="1.6" fill="#0d6b6b"/>
<circle cx="415.3" cy="862.6" r="1.6" fill="#0d6b6b"/>
<circle cx="433.5" cy="829.5" r="1.6" fill="#0d6b6b"/>
<circle cx="421" cy="845.9" r="1.6" fill="#0d6b6b"/>
<circle cx="402.7" cy="847.8" r="1.6" fill="#0d6b6b"/>
<circle cx="416" cy="843.9" r="1.6" fill="#0d6b6b"/>
<circle cx="412.7" cy="859.6" r="1.6" fill="#0d6b6b"/>
<circle cx="436" cy="855.7" r="1.6" fill="#0d6b6b"/>
<circle cx="482.8" cy="800.5" r="1.6" fill="#0d6b6b"/>
<circle cx="430" cy="851.2" r="1.6" fill="#0d6b6b"/>
<circle cx="464.6" cy="787.4" r="1.6" fill="#0d6b6b"/>
<circle cx="437.8" cy="857.3" r="1.6" fill="#0d6b6b"/>
<circle cx="421.1" cy="832.9" r="1.6" fill="#0d6b6b"/>
<circle cx="420.9" cy="866" r="1.6" fill="#0d6b6b"/>
<circle cx="406.9" cy="868.5" r="1.6" fill="#0d6b6b"/>
<circle cx="431.8" cy="848.4" r="1.6" fill="#0d6b6b"/>
<circle cx="431.9" cy="785.1" r="1.6" fill="#0d6b6b"/>
<circle cx="468.3" cy="829.2" r="1.6" fill="#0d6b6b"/>
<circle cx="438.7" cy="829.9" r="1.6" fill="#0d6b6b"/>
<circle cx="428.7" cy="819.6" r="1.6" fill="#0d6b6b"/>
<circle cx="424.6" cy="847.6" r="1.6" fill="#0d6b6b"/>
<circle cx="423.8" cy="844.1" r="1.6" fill="#0d6b6b"/>
<circle cx="458.2" cy="803.2" r="1.6" fill="#0d6b6b"/>
<circle cx="403.7" cy="864.8" r="1.6" fill="#0d6b6b"/>
<circle cx="415" cy="833.6" r="1.6" fill="#0d6b6b"/>
<circle cx="436.2" cy="817" r="1.6" fill="#0d6b6b"/>
<circle cx="430.3" cy="872.6" r="1.6" fill="#0d6b6b"/>
<circle cx="440.9" cy="825.7" r="1.6" fill="#0d6b6b"/>
<circle cx="442.1" cy="853" r="1.6" fill="#0d6b6b"/>
<circle cx="433.2" cy="848.1" r="1.6" fill="#0d6b6b"/>
<circle cx="417.3" cy="840.4" r="1.6" fill="#0d6b6b"/>
<circle cx="438.9" cy="847.8" r="1.6" fill="#0d6b6b"/>
<circle cx="396" cy="907.6" r="1.6" fill="#0d6b6b"/>
<circle cx="419.6" cy="824.6" r="1.6" fill="#0d6b6b"/>
<circle cx="430.4" cy="878.8" r="1.6" fill="#0d6b6b"/>
<circle cx="413.6" cy="841.8" r="1.6" fill="#0d6b6b"/>
<circle cx="466.2" cy="790.2" r="1.6" fill="#0d6b6b"/>
<circle cx="439.1" cy="827.6" r="1.6" fill="#0d6b6b"/>
<circle cx="409.6" cy="860.8" r="1.6" fill="#0d6b6b"/>
<circle cx="424.6" cy="855.8" r="1.6" fill="#0d6b6b"/>
<circle cx="432.9" cy="842.9" r="1.6" fill="#0d6b6b"/>
<circle cx="438.5" cy="805.3" r="1.6" fill="#0d6b6b"/>
<circle cx="446.9" cy="817.9" r="1.6" fill="#0d6b6b"/>
<circle cx="426.5" cy="868.2" r="1.6" fill="#0d6b6b"/>
<circle cx="429.2" cy="828.4" r="1.6" fill="#0d6b6b"/>
<circle cx="410.6" cy="828.7" r="1.6" fill="#0d6b6b"/>
<circle cx="424.6" cy="834.8" r="1.6" fill="#0d6b6b"/>
<circle cx="424.7" cy="864.6" r="1.6" fill="#0d6b6b"/>
<circle cx="474.4" cy="827.1" r="1.6" fill="#0d6b6b"/>
<circle cx="450.6" cy="833.1" r="1.6" fill="#0d6b6b"/>
<circle cx="437.3" cy="847.3" r="1.6" fill="#0d6b6b"/>
<circle cx="422.9" cy="826" r="1.6" fill="#0d6b6b"/>
<circle cx="471.9" cy="823.1" r="1.6" fill="#0d6b6b"/>
<circle cx="431.7" cy="819.1" r="1.6" fill="#0d6b6b"/>
<circle cx="418.4" cy="833" r="1.6" fill="#0d6b6b"/>
<circle cx="415.3" cy="837.3" r="1.6" fill="#0d6b6b"/>
<circle cx="440.6" cy="807.9" r="1.6" fill="#0d6b6b"/>
<circle cx="439.1" cy="853.1" r="1.6" fill="#0d6b6b"/>
<circle cx="445.3" cy="847" r="1.6" fill="#0d6b6b"/>
<circle cx="447.1" cy="797.7" r="1.6" fill="#0d6b6b"/>
<circle cx="443.9" cy="837.9" r="1.6" fill="#0d6b6b"/>
<circle cx="456.3" cy="815.8" r="1.6" fill="#0d6b6b"/>
<circle cx="405.7" cy="861.8" r="1.6" fill="#0d6b6b"/>
<circle cx="461" cy="821" r="1.6" fill="#0d6b6b"/>
<circle cx="434.1" cy="841.1" r="1.6" fill="#0d6b6b"/>
<circle cx="396.6" cy="871.2" r="1.6" fill="#0d6b6b"/>
<circle cx="438.9" cy="827.5" r="1.6" fill="#0d6b6b"/>
<circle cx="427.9" cy="878.4" r="1.6" fill="#0d6b6b"/>
<circle cx="456.9" cy="805.2" r="1.6" fill="#0d6b6b"/>
<circle cx="452.8" cy="797.5" r="1.6" fill="#0d6b6b"/>
<circle cx="422.3" cy="854.4" r="1.6" fill="#0d6b6b"/>
<circle cx="438.1" cy="801.2" r="1.6" fill="#0d6b6b"/>
<circle cx="396.6" cy="866" r="1.6" fill="#0d6b6b"/>
<circle cx="416.7" cy="837.1" r="1.6" fill="#0d6b6b"/>
<circle cx="461.9" cy="820.2" r="1.6" fill="#0d6b6b"/>
<circle cx="405.8" cy="854.3" r="1.6" fill="#0d6b6b"/>
<circle cx="425.6" cy="869.2" r="1.6" fill="#0d6b6b"/>
<circle cx="449.9" cy="833" r="1.6" fill="#0d6b6b"/>
<circle cx="445.7" cy="850.6" r="1.6" fill="#0d6b6b"/>
<circle cx="454.3" cy="846.7" r="1.6" fill="#0d6b6b"/>
<circle cx="453.4" cy="854.2" r="1.6" fill="#0d6b6b"/>
<circle cx="460.2" cy="822.9" r="1.6" fill="#0d6b6b"/>
<circle cx="399.3" cy="864.2" r="1.6" fill="#0d6b6b"/>
<circle cx="438.5" cy="849.8" r="1.6" fill="#0d6b6b"/>
<circle cx="421.3" cy="839.1" r="1.6" fill="#0d6b6b"/>
<circle cx="428" cy="895.4" r="1.6" fill="#0d6b6b"/>
<circle cx="422.6" cy="835.2" r="1.6" fill="#0d6b6b"/>
<circle cx="437.7" cy="813.7" r="1.6" fill="#0d6b6b"/>
<circle cx="417.2" cy="800.1" r="1.6" fill="#0d6b6b"/>
<circle cx="448.1" cy="819" r="1.6" fill="#0d6b6b"/>
<circle cx="454.1" cy="802.9" r="1.6" fill="#0d6b6b"/>
<circle cx="433.7" cy="846.5" r="1.6" fill="#0d6b6b"/>
<circle cx="452.8" cy="813.6" r="1.6" fill="#0d6b6b"/>
<circle cx="392.3" cy="885.2" r="1.6" fill="#0d6b6b"/>
<circle cx="441.2" cy="827.7" r="1.6" fill="#0d6b6b"/>
<circle cx="437.3" cy="820.7" r="1.6" fill="#0d6b6b"/>
<circle cx="434.6" cy="805.4" r="1.6" fill="#0d6b6b"/>
<circle cx="419.3" cy="852.8" r="1.6" fill="#0d6b6b"/>
<circle cx="438.2" cy="818.1" r="1.6" fill="#0d6b6b"/>
<circle cx="447.9" cy="797.6" r="1.6" fill="#0d6b6b"/>
<circle cx="421.6" cy="822.3" r="1.6" fill="#0d6b6b"/>
<circle cx="441.2" cy="848.8" r="1.6" fill="#0d6b6b"/>
<circle cx="428.7" cy="800.4" r="1.6" fill="#0d6b6b"/>
<circle cx="447.8" cy="833.5" r="1.6" fill="#0d6b6b"/>
<circle cx="381.8" cy="886" r="1.6" fill="#0d6b6b"/>
<circle cx="417" cy="845.7" r="1.6" fill="#0d6b6b"/>
<circle cx="479.5" cy="788.5" r="1.6" fill="#0d6b6b"/>
<circle cx="438" cy="849.1" r="1.6" fill="#0d6b6b"/>
<circle cx="406.9" cy="858.2" r="1.6" fill="#0d6b6b"/>
<circle cx="421.8" cy="788.4" r="1.6" fill="#0d6b6b"/>
<circle cx="423.2" cy="854" r="1.6" fill="#0d6b6b"/>
<circle cx="455" cy="818.4" r="1.6" fill="#0d6b6b"/>
<circle cx="405.9" cy="831.4" r="1.6" fill="#0d6b6b"/>
<circle cx="425.1" cy="865.7" r="1.6" fill="#0d6b6b"/>
<circle cx="438.2" cy="822.9" r="1.6" fill="#0d6b6b"/>
<circle cx="424.5" cy="828.9" r="1.6" fill="#0d6b6b"/>
<circle cx="448.6" cy="840.6" r="1.6" fill="#0d6b6b"/>
<circle cx="388.9" cy="911.3" r="1.6" fill="#0d6b6b"/>
<circle cx="428.9" cy="816" r="1.6" fill="#0d6b6b"/>
<circle cx="452.3" cy="796.1" r="1.6" fill="#0d6b6b"/>
<circle cx="470.1" cy="808.6" r="1.6" fill="#0d6b6b"/>
<circle cx="453.4" cy="849" r="1.6" fill="#0d6b6b"/>
<circle cx="445.8" cy="819.1" r="1.6" fill="#0d6b6b"/>
<circle cx="429.6" cy="846.2" r="1.6" fill="#0d6b6b"/>
<circle cx="408.4" cy="850.7" r="1.6" fill="#0d6b6b"/>
<circle cx="458" cy="824.3" r="1.6" fill="#0d6b6b"/>
<circle cx="442.6" cy="840.9" r="1.6" fill="#0d6b6b"/>
<circle cx="436.8" cy="851.3" r="1.6" fill="#0d6b6b"/>
<circle cx="439.4" cy="835" r="1.6" fill="#0d6b6b"/>
<circle cx="438.1" cy="843.1" r="1.6" fill="#0d6b6b"/>
<circle cx="407.1" cy="860.2" r="1.6" fill="#0d6b6b"/>
<circle cx="453" cy="792.2" r="1.6" fill="#0d6b6b"/>
<circle cx="424.8" cy="826.8" r="1.6" fill="#0d6b6b"/>
<circle cx="447.3" cy="818.1" r="1.6" fill="#0d6b6b"/>
<circle cx="399.4" cy="853.9" r="1.6" fill="#0d6b6b"/>
<circle cx="411.4" cy="829.5" r="1.6" fill="#0d6b6b"/>
<circle cx="447.9" cy="813.5" r="1.6" fill="#0d6b6b"/>
<circle cx="378.9" cy="863.1" r="1.6" fill="#0d6b6b"/>
<circle cx="446.1" cy="849.7" r="1.6" fill="#0d6b6b"/>
<circle cx="451.7" cy="820.8" r="1.6" fill="#0d6b6b"/>
<circle cx="427.7" cy="852.5" r="1.6" fill="#0d6b6b"/>
<circle cx="410.4" cy="859.8" r="1.6" fill="#0d6b6b"/>
<circle cx="495.6" cy="786.8" r="1.6" fill="#0d6b6b"/>
<circle cx="435.9" cy="845.4" r="1.6" fill="#0d6b6b"/>
<circle cx="418.7" cy="856" r="1.6" fill="#0d6b6b"/>
<circle cx="413.1" cy="833.8" r="1.6" fill="#0d6b6b"/>
<circle cx="425.9" cy="824.8" r="1.6" fill="#0d6b6b"/>
<circle cx="407.6" cy="836.8" r="1.6" fill="#0d6b6b"/>
<circle cx="431" cy="824.8" r="1.6" fill="#0d6b6b"/>
<circle cx="429.4" cy="854.5" r="1.6" fill="#0d6b6b"/>
<circle cx="456.7" cy="826.6" r="1.6" fill="#0d6b6b"/>
<circle cx="428.5" cy="855.1" r="1.6" fill="#0d6b6b"/>
<circle cx="435.8" cy="840.8" r="1.6" fill="#0d6b6b"/>
<circle cx="437.4" cy="826.1" r="1.6" fill="#0d6b6b"/>
<circle cx="417.2" cy="872.8" r="1.6" fill="#0d6b6b"/>
<circle cx="440.5" cy="813.3" r="1.6" fill="#0d6b6b"/>
<circle cx="446" cy="847.3" r="1.6" fill="#0d6b6b"/>
<circle cx="444.1" cy="820.6" r="1.6" fill="#0d6b6b"/>
<circle cx="437.4" cy="824.5" r="1.6" fill="#0d6b6b"/>
<circle cx="424.8" cy="837.5" r="1.6" fill="#0d6b6b"/>
<circle cx="450.8" cy="832.1" r="1.6" fill="#0d6b6b"/>
<circle cx="401.7" cy="860.1" r="1.6" fill="#0d6b6b"/>
<circle cx="435.6" cy="867.6" r="1.6" fill="#0d6b6b"/>
<circle cx="417.5" cy="835.9" r="1.6" fill="#0d6b6b"/>
<circle cx="428.4" cy="837.2" r="1.6" fill="#0d6b6b"/>
<circle cx="405.4" cy="838.8" r="1.6" fill="#0d6b6b"/>
<circle cx="467.9" cy="814.1" r="1.6" fill="#0d6b6b"/>
<circle cx="416.3" cy="868.8" r="1.6" fill="#0d6b6b"/>
<circle cx="450" cy="821.4" r="1.6" fill="#0d6b6b"/>
<circle cx="415.1" cy="826.2" r="1.6" fill="#0d6b6b"/>
<circle cx="447.4" cy="814.2" r="1.6" fill="#0d6b6b"/>
<circle cx="395" cy="864.8" r="1.6" fill="#0d6b6b"/>
<circle cx="444.5" cy="849.8" r="1.6" fill="#0d6b6b"/>
<circle cx="450.8" cy="796.5" r="1.6" fill="#0d6b6b"/>
<circle cx="453" cy="834.5" r="1.6" fill="#0d6b6b"/>
<circle cx="416.9" cy="829.9" r="1.6" fill="#0d6b6b"/>
<circle cx="452.2" cy="799.2" r="1.6" fill="#0d6b6b"/>
<circle cx="456.5" cy="820.6" r="1.6" fill="#0d6b6b"/>
<circle cx="423" cy="876.8" r="1.6" fill="#0d6b6b"/>
<circle cx="447.8" cy="783.1" r="1.6" fill="#0d6b6b"/>
<circle cx="421.9" cy="852.3" r="1.6" fill="#0d6b6b"/>
<circle cx="445" cy="820.1" r="1.6" fill="#0d6b6b"/>
<circle cx="438.2" cy="749.6" r="1.6" fill="#0d6b6b"/>
<circle cx="429.8" cy="776.9" r="1.6" fill="#0d6b6b"/>
<circle cx="442.4" cy="781.7" r="1.6" fill="#0d6b6b"/>
<circle cx="379.4" cy="803.1" r="1.6" fill="#0d6b6b"/>
<circle cx="392" cy="813" r="1.6" fill="#0d6b6b"/>
<circle cx="383" cy="819.3" r="1.6" fill="#0d6b6b"/>
<circle cx="395" cy="822" r="1.6" fill="#0d6b6b"/>
<circle cx="529.6" cy="731.4" r="1.6" fill="#0d6b6b"/>
<circle cx="493.3" cy="743.3" r="1.6" fill="#0d6b6b"/>
<circle cx="507.2" cy="749.6" r="1.6" fill="#0d6b6b"/>
<circle cx="508.2" cy="760.7" r="1.6" fill="#0d6b6b"/>
<circle cx="512.4" cy="760.7" r="1.6" fill="#0d6b6b"/>
<circle cx="517" cy="765.3" r="1.6" fill="#0d6b6b"/>
<circle cx="513.5" cy="799.3" r="1.6" fill="#0d6b6b"/>
<circle cx="540.1" cy="809.8" r="1.6" fill="#0d6b6b"/>
<circle cx="563.2" cy="817.8" r="1.6" fill="#0d6b6b"/>
<circle cx="543.3" cy="826.2" r="1.6" fill="#0d6b6b"/>
<circle cx="498.2" cy="827.2" r="1.6" fill="#0d6b6b"/>
<circle cx="463.5" cy="767" r="1.6" fill="#0d6b6b"/>
<circle cx="468.8" cy="763.7" r="1.6" fill="#0d6b6b"/>
<circle cx="357.8" cy="933.5" r="1.6" fill="#0d6b6b"/>
<circle cx="373.6" cy="897.4" r="1.6" fill="#0d6b6b"/>
<circle cx="374.6" cy="901.6" r="1.6" fill="#0d6b6b"/>
<circle cx="383" cy="895.3" r="1.6" fill="#0d6b6b"/>
<circle cx="392.4" cy="906.8" r="1.6" fill="#0d6b6b"/>
<circle cx="393.9" cy="911" r="1.6" fill="#0d6b6b"/>
<circle cx="378.8" cy="860.2" r="1.6" fill="#0d6b6b"/>
<circle cx="390.3" cy="854.4" r="1.6" fill="#0d6b6b"/>
<circle cx="447" cy="897.4" r="1.6" fill="#0d6b6b"/>
<circle cx="442.4" cy="880.2" r="1.6" fill="#0d6b6b"/>
<circle cx="414.9" cy="889.4" r="1.6" fill="#0d6b6b"/>
<circle cx="468.9" cy="917" r="1.6" fill="#0d6b6b"/>
<circle cx="466.1" cy="868" r="1.6" fill="#0d6b6b"/>
<circle cx="479.9" cy="771.8" r="1.6" fill="#0d6b6b"/>
<circle cx="488" cy="767.7" r="1.6" fill="#0d6b6b"/>
<circle cx="494" cy="775" r="1.6" fill="#0d6b6b"/>
<circle cx="496" cy="769.7" r="1.6" fill="#0d6b6b"/>
<circle cx="484" cy="780" r="1.6" fill="#0d6b6b"/>
<circle cx="473.8" cy="781.9" r="1.6" fill="#0d6b6b"/>
<circle cx="469.8" cy="765.7" r="1.6" fill="#0d6b6b"/>
<circle cx="461.7" cy="767.7" r="1.6" fill="#0d6b6b"/>
<circle cx="492" cy="794" r="1.6" fill="#0d6b6b"/>
<circle cx="498" cy="826.5" r="1.6" fill="#0d6b6b"/>
<circle cx="492" cy="832.6" r="1.6" fill="#0d6b6b"/>
<circle cx="477.9" cy="836.7" r="1.6" fill="#0d6b6b"/>
<circle cx="471.8" cy="846.8" r="1.6" fill="#0d6b6b"/>
<circle cx="469.8" cy="840.7" r="1.6" fill="#0d6b6b"/>
<circle cx="463.7" cy="759.6" r="1.6" fill="#0d6b6b"/>
<circle cx="467.7" cy="763.7" r="1.6" fill="#0d6b6b"/>
<polygon points="357,883.1 367.3,876.7 377.6,870.1 387.9,863.4 398.2,856.6 408.5,849.7 418.8,842.6 429.2,835.3 439.5,827.9 449.8,820.5 460.1,812.9 470.4,805.2 480.7,797.4 491,789.6 501.3,781.6 511.6,773.6 521.9,765.4 532.2,757.2 542.5,748.9 552.8,740.5 563.1,732 563.1,749.2 552.8,755.5 542.5,761.9 532.2,768.4 521.9,775 511.6,781.7 501.3,788.5 491,795.3 480.7,802.3 470.4,809.4 460.1,816.5 449.8,823.8 439.5,831.1 429.2,838.6 418.8,846.2 408.5,853.9 398.2,861.8 387.9,869.8 377.6,878 367.3,886.2 357,894.7" fill="#9a9a9a"/>
<line x1="357" y1="888.9" x2="563.1" y2="740.6" stroke="#e8231f" stroke-width="2.3"/>
<polyline points="347.9,722.3 347.9,942.7 580,942.7" fill="none" stroke="#555" stroke-width="1"/>
<line x1="347.9" y1="722.3" x2="580" y2="722.3" stroke="#555" stroke-width="1"/>
<line x1="344.2" y1="883.7" x2="347.9" y2="883.7" stroke="#444" stroke-width="1"/>
<text x="337.1" y="887.4" font-size="11.2" text-anchor="middle" fill="#231f20">3</text>
<line x1="344.2" y1="822.5" x2="347.9" y2="822.5" stroke="#444" stroke-width="1"/>
<text x="337.1" y="826.2" font-size="11.2" text-anchor="middle" fill="#231f20">4</text>
<line x1="344.2" y1="761.3" x2="347.9" y2="761.3" stroke="#444" stroke-width="1"/>
<text x="337.1" y="765" font-size="11.2" text-anchor="middle" fill="#231f20">5</text>
<line x1="382.4" y1="942.7" x2="382.4" y2="946.7" stroke="#444" stroke-width="1"/>
<text x="382.4" y="962.4" font-size="11.2" text-anchor="middle" fill="#231f20">2</text>
<line x1="437" y1="942.7" x2="437" y2="946.7" stroke="#444" stroke-width="1"/>
<text x="437" y="962.4" font-size="11.2" text-anchor="middle" fill="#231f20">3</text>
<line x1="491.6" y1="942.7" x2="491.6" y2="946.7" stroke="#444" stroke-width="1"/>
<text x="491.6" y="962.4" font-size="11.2" text-anchor="middle" fill="#231f20">4</text>
<line x1="546.2" y1="942.7" x2="546.2" y2="946.7" stroke="#444" stroke-width="1"/>
<text x="546.2" y="962.4" font-size="11.2" text-anchor="middle" fill="#231f20">5</text>
<text x="461.6" y="982.7" font-size="11.2" text-anchor="middle" textLength="125.7" lengthAdjust="spacingAndGlyphs" fill="#231f20">Expression of TGS1 in M7G</text>
<text x="323.3" y="832.5" font-size="11.2" text-anchor="middle" textLength="140.9" lengthAdjust="spacingAndGlyphs" transform="rotate(-90 323.3 832.5)" fill="#231f20">Expression of YTHDF3 in M6A</text>
<text x="518.3" y="888" font-size="11.2" text-anchor="middle" textLength="39" lengthAdjust="spacingAndGlyphs" fill="#231f20">r = 0.699</text>
<text x="518" y="906.8" font-size="11.2" text-anchor="middle" textLength="46" lengthAdjust="spacingAndGlyphs" fill="#231f20">p &lt; 0.0001</text>
<text x="440.2" y="1004.2" font-size="11.2" text-anchor="middle" fill="#231f20">(h)</text>
<rect x="190.5" y="1015.8" width="224.3" height="120" fill="#fff"/>
<line x1="199.7" y1="1015.8" x2="199.7" y2="1111" stroke="#ebebeb" stroke-width="0.8"/>
<line x1="230.6" y1="1015.8" x2="230.6" y2="1111" stroke="#d6d6d6" stroke-width="1"/>
<line x1="261.3" y1="1015.8" x2="261.3" y2="1111" stroke="#ebebeb" stroke-width="0.8"/>
<line x1="292.4" y1="1015.8" x2="292.4" y2="1111" stroke="#d6d6d6" stroke-width="1"/>
<line x1="323.6" y1="1015.8" x2="323.6" y2="1111" stroke="#ebebeb" stroke-width="0.8"/>
<line x1="354.4" y1="1015.8" x2="354.4" y2="1111" stroke="#d6d6d6" stroke-width="1"/>
<line x1="385.4" y1="1015.8" x2="385.4" y2="1111" stroke="#ebebeb" stroke-width="0.8"/>
<line x1="190.5" y1="1036.4" x2="414.8" y2="1036.4" stroke="#ebebeb" stroke-width="0.8"/>
<line x1="190.5" y1="1062.9" x2="414.8" y2="1062.9" stroke="#d6d6d6" stroke-width="1"/>
<line x1="190.5" y1="1089.6" x2="414.8" y2="1089.6" stroke="#ebebeb" stroke-width="0.8"/>
<circle cx="379.6" cy="1024.4" r="1.6" fill="#0d6b6b"/>
<circle cx="361.3" cy="1032.3" r="1.6" fill="#0d6b6b"/>
<circle cx="361" cy="1041.5" r="1.6" fill="#0d6b6b"/>
<circle cx="323.2" cy="1052.5" r="1.6" fill="#0d6b6b"/>
<circle cx="341.6" cy="1050.7" r="1.6" fill="#0d6b6b"/>
<circle cx="356" cy="1061.1" r="1.6" fill="#0d6b6b"/>
<circle cx="335" cy="1065.1" r="1.6" fill="#0d6b6b"/>
<circle cx="333.5" cy="1068.2" r="1.6" fill="#0d6b6b"/>
<circle cx="339.5" cy="1069" r="1.6" fill="#0d6b6b"/>
<circle cx="323.8" cy="1073" r="1.6" fill="#0d6b6b"/>
<circle cx="356.5" cy="1072.4" r="1.6" fill="#0d6b6b"/>
<circle cx="364.4" cy="1075.6" r="1.6" fill="#0d6b6b"/>
<circle cx="349.2" cy="1078.2" r="1.6" fill="#0d6b6b"/>
<circle cx="335" cy="1081.3" r="1.6" fill="#0d6b6b"/>
<circle cx="335.6" cy="1083.4" r="1.6" fill="#0d6b6b"/>
<circle cx="344.7" cy="1085.5" r="1.6" fill="#0d6b6b"/>
<circle cx="338.7" cy="1088.2" r="1.6" fill="#0d6b6b"/>
<circle cx="354.4" cy="1086.1" r="1.6" fill="#0d6b6b"/>
<circle cx="357.9" cy="1086.6" r="1.6" fill="#0d6b6b"/>
<circle cx="357.9" cy="1092.6" r="1.6" fill="#0d6b6b"/>
<circle cx="332.9" cy="1094.4" r="1.6" fill="#0d6b6b"/>
<circle cx="348.2" cy="1095.2" r="1.6" fill="#0d6b6b"/>
<circle cx="307.2" cy="1090.5" r="1.6" fill="#0d6b6b"/>
<circle cx="338.7" cy="1099.7" r="1.6" fill="#0d6b6b"/>
<circle cx="315.9" cy="1100.5" r="1.6" fill="#0d6b6b"/>
<circle cx="281.8" cy="1100.5" r="1.6" fill="#0d6b6b"/>
<circle cx="272.1" cy="1100.5" r="1.6" fill="#0d6b6b"/>
<circle cx="296.2" cy="1099.7" r="1.6" fill="#0d6b6b"/>
<circle cx="298.3" cy="1103.1" r="1.6" fill="#0d6b6b"/>
<circle cx="294.1" cy="1106.3" r="1.6" fill="#0d6b6b"/>
<circle cx="347.4" cy="1104.4" r="1.6" fill="#0d6b6b"/>
<circle cx="383.3" cy="1097.9" r="1.6" fill="#0d6b6b"/>
<circle cx="384.1" cy="1104.9" r="1.6" fill="#0d6b6b"/>
<circle cx="363.1" cy="1105.7" r="1.6" fill="#0d6b6b"/>
<circle cx="368.3" cy="1109.1" r="1.6" fill="#0d6b6b"/>
<circle cx="271.7" cy="1100.9" r="1.6" fill="#0d6b6b"/>
<circle cx="282.2" cy="1100.3" r="1.6" fill="#0d6b6b"/>
<circle cx="268.1" cy="1110.3" r="1.6" fill="#0d6b6b"/>
<circle cx="277.5" cy="1109.7" r="1.6" fill="#0d6b6b"/>
<circle cx="294.3" cy="1106.2" r="1.6" fill="#0d6b6b"/>
<circle cx="296.4" cy="1099.9" r="1.6" fill="#0d6b6b"/>
<circle cx="298.5" cy="1107.2" r="1.6" fill="#0d6b6b"/>
<circle cx="310" cy="1108" r="1.6" fill="#0d6b6b"/>
<circle cx="320" cy="1104" r="1.6" fill="#0d6b6b"/>
<circle cx="326" cy="1110" r="1.6" fill="#0d6b6b"/>
<circle cx="352" cy="1100" r="1.6" fill="#0d6b6b"/>
<circle cx="357" cy="1109" r="1.6" fill="#0d6b6b"/>
<circle cx="336" cy="1107" r="1.6" fill="#0d6b6b"/>
<circle cx="303" cy="1110" r="1.6" fill="#0d6b6b"/>
<circle cx="315" cy="1109" r="1.6" fill="#0d6b6b"/>
<polygon points="330,1116.4 337.6,1111.6 345.2,1106.7 352.7,1101.7 360.3,1096.7 367.9,1091.5 375.5,1086.3 383.1,1081 390.6,1075.6 398.2,1070.1 405.8,1064.6 405.8,1078.6 398.2,1082.6 390.6,1086.7 383.1,1090.9 375.5,1095.2 367.9,1099.5 360.3,1103.9 352.7,1108.4 345.2,1113 337.6,1117.7 330,1122.4" fill="#9a9a9a"/>
<line x1="330" y1="1119.4" x2="405.8" y2="1071.6" stroke="#e8231f" stroke-width="2.3"/>
<polyline points="190.5,1115 190.5,1015.8 414.8,1015.8 414.8,1115" fill="none" stroke="#555" stroke-width="1"/>
<line x1="187.7" y1="1062.5" x2="190.5" y2="1062.5" stroke="#444" stroke-width="1"/>
<text x="178.5" y="1066.2" font-size="11.2" text-anchor="middle" fill="#231f20">4</text>
<text x="166.2" y="1057.2" font-size="11.2" text-anchor="end" textLength="143.7" lengthAdjust="spacingAndGlyphs" transform="rotate(-90 166.2 1057.2)" fill="#231f20">Expression of DNMT3A in M5C</text>
<text x="262.1" y="1050.3" font-size="11.2" text-anchor="middle" textLength="38.6" lengthAdjust="spacingAndGlyphs" fill="#231f20">r = 0.698</text>
<text x="261.8" y="1065.8" font-size="11.2" text-anchor="middle" textLength="44" lengthAdjust="spacingAndGlyphs" fill="#231f20">p &lt; 0.0001</text>
</svg></body></html>
